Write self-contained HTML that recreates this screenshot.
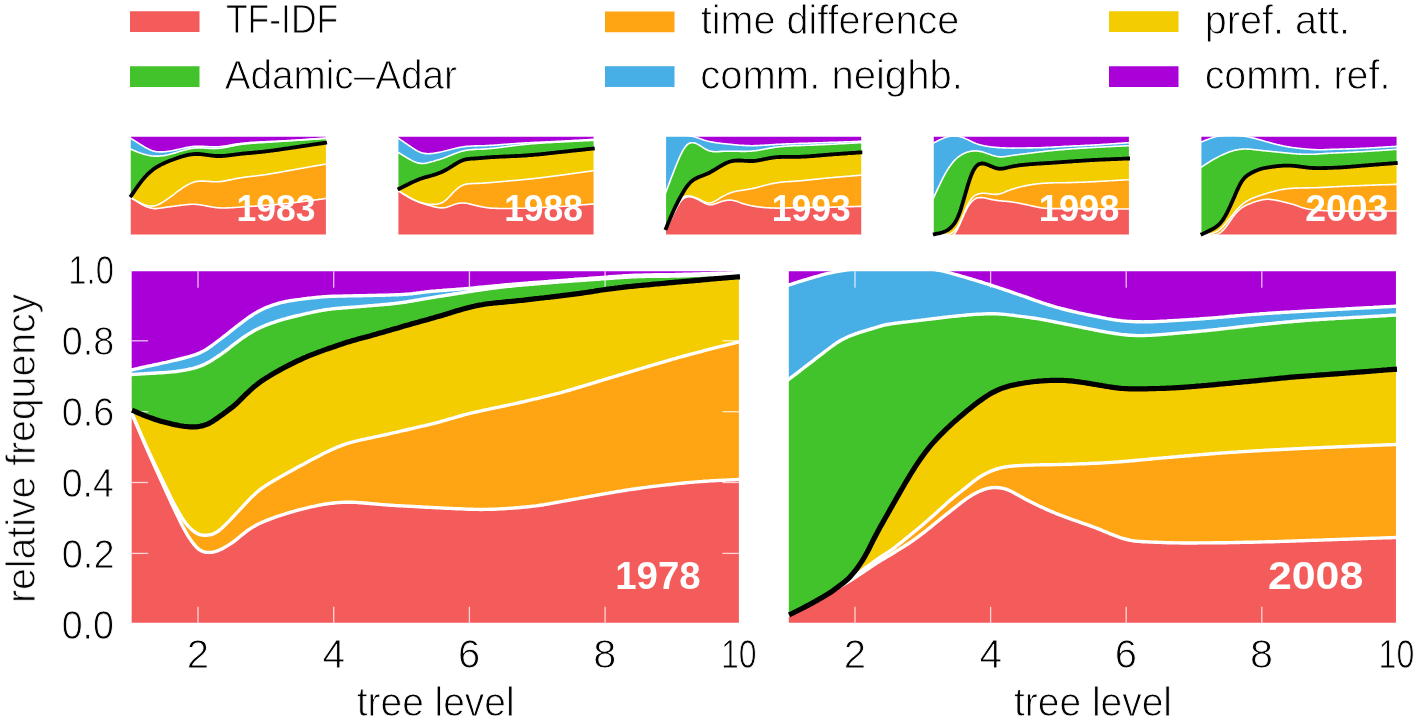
<!DOCTYPE html>
<html><head><meta charset="utf-8"><title>chart</title>
<style>
html,body{margin:0;padding:0;background:#fff;}
body{width:1416px;height:720px;overflow:hidden;}
svg{display:block;font-family:"Liberation Sans",sans-serif;}
</style></head><body>
<svg width="1416" height="720" viewBox="0 0 1416 720">
<defs>
<clipPath id="cL"><rect x="131.0" y="271.0" width="608.0" height="352.0"/></clipPath>
<path id="pLb5" d="M128,370.7 130,370.3 132,369.9 134,369.4 136,368.9 138,368.5 140,368 142,367.5 144,367.1 146,366.7 148,366.2 150,365.8 152,365.4 154,364.9 156,364.5 158,364.1 160,363.6 162,363.2 164,362.7 166,362.3 168,361.8 170,361.4 172,360.9 174,360.4 176,360 178,359.5 180,359 182,358.5 184,358 186,357.4 188,356.9 190,356.3 192,355.7 194,355.1 196,354.4 198,353.6 200,352.8 202,351.8 204,350.8 206,349.6 208,348.3 210,346.9 212,345.5 214,344 216,342.5 218,341 220,339.5 222,338 224,336.4 226,334.9 228,333.3 230,331.7 232,330.1 234,328.5 236,326.9 238,325.4 240,323.8 242,322.3 244,320.8 246,319.3 248,317.9 250,316.5 252,315.2 254,313.9 256,312.7 258,311.6 260,310.5 262,309.5 264,308.5 266,307.6 268,306.8 270,306.1 272,305.3 274,304.7 276,304.1 278,303.5 280,302.9 282,302.4 284,302 286,301.5 288,301.1 290,300.8 292,300.5 294,300.2 296,299.9 298,299.6 300,299.4 302,299.1 304,298.8 306,298.6 308,298.3 310,298.1 312,297.9 314,297.7 316,297.5 318,297.3 320,297.1 322,296.9 324,296.7 326,296.6 328,296.5 330,296.4 332,296.3 334,296.2 336,296.2 338,296.1 340,296.1 342,296.1 344,296 346,296 348,295.9 350,295.9 352,295.9 354,295.8 356,295.8 358,295.8 360,295.7 362,295.7 364,295.6 366,295.6 368,295.5 370,295.5 372,295.5 374,295.4 376,295.4 378,295.3 380,295.3 382,295.2 384,295.2 386,295.1 388,295.1 390,295 392,294.9 394,294.9 396,294.8 398,294.7 400,294.6 402,294.5 404,294.4 406,294.2 408,294.1 410,293.9 412,293.7 414,293.4 416,293.2 418,292.9 420,292.7 422,292.4 424,292.2 426,291.9 428,291.7 430,291.5 432,291.3 434,291.1 436,291 438,290.8 440,290.6 442,290.5 444,290.3 446,290.2 448,290 450,289.9 452,289.7 454,289.6 456,289.4 458,289.2 460,289.1 462,288.9 464,288.8 466,288.6 468,288.4 470,288.3 472,288.1 474,287.9 476,287.7 478,287.5 480,287.3 482,287.1 484,286.9 486,286.7 488,286.5 490,286.4 492,286.2 494,286 496,285.8 498,285.6 500,285.4 502,285.2 504,285 506,284.8 508,284.6 510,284.4 512,284.3 514,284.1 516,283.9 518,283.8 520,283.6 522,283.4 524,283.3 526,283.1 528,283 530,282.8 532,282.7 534,282.5 536,282.4 538,282.2 540,282.1 542,281.9 544,281.8 546,281.6 548,281.5 550,281.3 552,281.2 554,281 556,280.9 558,280.7 560,280.6 562,280.4 564,280.3 566,280.1 568,280 570,279.8 572,279.6 574,279.5 576,279.3 578,279.2 580,279 582,278.9 584,278.8 586,278.6 588,278.5 590,278.3 592,278.2 594,278 596,277.9 598,277.7 600,277.6 602,277.4 604,277.3 606,277.1 608,277 610,276.8 612,276.7 614,276.5 616,276.4 618,276.2 620,276.1 622,276 624,275.8 626,275.7 628,275.6 630,275.5 632,275.4 634,275.3 636,275.3 638,275.2 640,275.1 642,275.1 644,275 646,275 648,275 650,274.9 652,274.9 654,274.8 656,274.8 658,274.8 660,274.8 662,274.7 664,274.7 666,274.7 668,274.6 670,274.6 672,274.6 674,274.6 676,274.5 678,274.5 680,274.4 682,274.4 684,274.3 686,274.3 688,274.2 690,274.2 692,274.1 694,274 696,274 698,273.9 700,273.9 702,273.8 704,273.7 706,273.7 708,273.6 710,273.6 712,273.5 714,273.4 716,273.4 718,273.3 720,273.3 722,273.2 724,273.1 726,273.1 728,273 730,273 732,272.9 734,272.8 736,272.8 738,272.7 740,272.7 742,272.6 L742,629 L128,629 Z"/>
<path id="pLb4" d="M128,374.6 130,374.6 132,374.5 134,374.4 136,374.2 138,374.1 140,374 142,373.9 144,373.8 146,373.6 148,373.5 150,373.4 152,373.3 154,373.2 156,373 158,372.9 160,372.8 162,372.7 164,372.6 166,372.4 168,372.3 170,372.1 172,371.9 174,371.7 176,371.5 178,371.2 180,370.9 182,370.6 184,370.3 186,369.9 188,369.5 190,369 192,368.6 194,368.1 196,367.5 198,366.9 200,366.2 202,365.4 204,364.6 206,363.6 208,362.5 210,361.4 212,360.2 214,358.9 216,357.6 218,356.3 220,355 222,353.5 224,352.1 226,350.6 228,349.1 230,347.5 232,345.9 234,344.4 236,342.8 238,341.3 240,339.8 242,338.4 244,337 246,335.7 248,334.4 250,333.2 252,332 254,330.8 256,329.7 258,328.7 260,327.7 262,326.8 264,326 266,325.2 268,324.4 270,323.7 272,322.9 274,322.3 276,321.6 278,320.9 280,320.3 282,319.7 284,319.1 286,318.6 288,318 290,317.5 292,317 294,316.5 296,316 298,315.5 300,315.1 302,314.6 304,314.1 306,313.7 308,313.2 310,312.8 312,312.3 314,311.9 316,311.5 318,311.1 320,310.7 322,310.4 324,310 326,309.7 328,309.4 330,309.2 332,308.9 334,308.7 336,308.5 338,308.3 340,308.2 342,308 344,307.8 346,307.7 348,307.5 350,307.4 352,307.2 354,307.1 356,306.9 358,306.8 360,306.6 362,306.4 364,306.3 366,306.1 368,305.9 370,305.7 372,305.6 374,305.4 376,305.2 378,305.1 380,304.9 382,304.7 384,304.5 386,304.4 388,304.2 390,304 392,303.8 394,303.6 396,303.3 398,303.1 400,302.8 402,302.6 404,302.3 406,302 408,301.6 410,301.3 412,301 414,300.6 416,300.3 418,300 420,299.6 422,299.3 424,298.9 426,298.6 428,298.3 430,297.9 432,297.6 434,297.3 436,296.9 438,296.6 440,296.3 442,296 444,295.6 446,295.3 448,295 450,294.7 452,294.4 454,294 456,293.7 458,293.4 460,293.1 462,292.8 464,292.5 466,292.1 468,291.8 470,291.5 472,291.2 474,290.9 476,290.6 478,290.3 480,290 482,289.7 484,289.4 486,289.2 488,288.9 490,288.6 492,288.3 494,288.1 496,287.8 498,287.6 500,287.3 502,287.1 504,286.9 506,286.6 508,286.4 510,286.2 512,286 514,285.8 516,285.6 518,285.4 520,285.2 522,285 524,284.8 526,284.7 528,284.5 530,284.3 532,284.2 534,284 536,283.8 538,283.7 540,283.5 542,283.3 544,283.2 546,283 548,282.9 550,282.7 552,282.5 554,282.4 556,282.2 558,282.1 560,281.9 562,281.8 564,281.6 566,281.5 568,281.3 570,281.2 572,281.1 574,280.9 576,280.8 578,280.6 580,280.5 582,280.3 584,280.2 586,280 588,279.9 590,279.8 592,279.6 594,279.5 596,279.3 598,279.2 600,279 602,278.9 604,278.8 606,278.6 608,278.5 610,278.3 612,278.2 614,278 616,277.9 618,277.8 620,277.6 622,277.5 624,277.4 626,277.2 628,277.1 630,277 632,276.9 634,276.8 636,276.7 638,276.6 640,276.6 642,276.5 644,276.5 646,276.4 648,276.4 650,276.3 652,276.3 654,276.3 656,276.3 658,276.3 660,276.2 662,276.2 664,276.2 666,276.2 668,276.2 670,276.1 672,276.1 674,276.1 676,276 678,276 680,276 682,275.9 684,275.8 686,275.8 688,275.7 690,275.6 692,275.5 694,275.4 696,275.3 698,275.3 700,275.2 702,275.1 704,275 706,274.9 708,274.8 710,274.7 712,274.6 714,274.5 716,274.4 718,274.4 720,274.3 722,274.2 724,274.1 726,274 728,273.9 730,273.8 732,273.8 734,273.7 736,273.6 738,273.5 740,273.5 742,273.4 L742,629 L128,629 Z"/>
<path id="pLb3" d="M128,407.1 130,409.2 132,410.1 134,411 136,411.9 138,412.8 140,413.6 142,414.5 144,415.3 146,416.1 148,416.9 150,417.6 152,418.3 154,419 156,419.7 158,420.3 160,420.9 162,421.5 164,422 166,422.6 168,423.1 170,423.6 172,424.1 174,424.5 176,424.9 178,425.3 180,425.7 182,426 184,426.3 186,426.5 188,426.7 190,426.8 192,426.9 194,426.9 196,426.8 198,426.6 200,426.3 202,425.9 204,425.3 206,424.6 208,423.8 210,422.8 212,421.7 214,420.4 216,419 218,417.7 220,416.2 222,414.8 224,413.3 226,411.9 228,410.4 230,408.9 232,407.4 234,405.7 236,404 238,402.1 240,400.2 242,398.2 244,396.2 246,394.2 248,392.3 250,390.4 252,388.6 254,386.8 256,385.2 258,383.6 260,382.1 262,380.7 264,379.4 266,378.1 268,376.9 270,375.6 272,374.4 274,373.3 276,372.1 278,371 280,369.9 282,368.8 284,367.7 286,366.7 288,365.7 290,364.7 292,363.7 294,362.7 296,361.7 298,360.7 300,359.8 302,358.8 304,357.9 306,357.1 308,356.2 310,355.4 312,354.6 314,353.9 316,353.1 318,352.3 320,351.6 322,350.9 324,350.1 326,349.4 328,348.7 330,348 332,347.4 334,346.7 336,346 338,345.3 340,344.6 342,344 344,343.3 346,342.6 348,342 350,341.4 352,340.8 354,340.2 356,339.7 358,339.1 360,338.6 362,338 364,337.5 366,336.9 368,336.4 370,335.9 372,335.3 374,334.7 376,334.2 378,333.6 380,333 382,332.5 384,331.9 386,331.3 388,330.7 390,330.2 392,329.6 394,329 396,328.4 398,327.9 400,327.3 402,326.7 404,326.1 406,325.5 408,325 410,324.4 412,323.8 414,323.3 416,322.7 418,322.2 420,321.6 422,321 424,320.5 426,319.9 428,319.4 430,318.8 432,318.2 434,317.7 436,317.1 438,316.6 440,316 442,315.4 444,314.8 446,314.2 448,313.6 450,313 452,312.3 454,311.7 456,311.1 458,310.5 460,309.9 462,309.3 464,308.8 466,308.2 468,307.7 470,307.2 472,306.7 474,306.3 476,305.8 478,305.4 480,305 482,304.7 484,304.3 486,304 488,303.7 490,303.5 492,303.3 494,303 496,302.8 498,302.6 500,302.5 502,302.3 504,302.1 506,301.9 508,301.7 510,301.5 512,301.3 514,301.2 516,300.9 518,300.7 520,300.5 522,300.3 524,300.1 526,299.8 528,299.6 530,299.4 532,299.2 534,298.9 536,298.7 538,298.5 540,298.2 542,298 544,297.8 546,297.5 548,297.3 550,297.1 552,296.8 554,296.6 556,296.4 558,296.1 560,295.9 562,295.6 564,295.4 566,295.2 568,294.9 570,294.7 572,294.4 574,294.2 576,293.9 578,293.7 580,293.4 582,293.1 584,292.8 586,292.5 588,292.2 590,291.9 592,291.6 594,291.3 596,290.9 598,290.6 600,290.3 602,290 604,289.7 606,289.4 608,289.2 610,288.9 612,288.6 614,288.4 616,288.1 618,287.9 620,287.6 622,287.4 624,287.1 626,286.9 628,286.7 630,286.5 632,286.3 634,286.1 636,285.9 638,285.7 640,285.5 642,285.3 644,285.1 646,285 648,284.8 650,284.6 652,284.4 654,284.2 656,284 658,283.8 660,283.7 662,283.5 664,283.3 666,283.1 668,282.9 670,282.7 672,282.6 674,282.4 676,282.2 678,282 680,281.8 682,281.7 684,281.5 686,281.3 688,281.1 690,281 692,280.8 694,280.6 696,280.4 698,280.3 700,280.1 702,279.9 704,279.7 706,279.6 708,279.4 710,279.2 712,279 714,278.9 716,278.7 718,278.5 720,278.3 722,278.2 724,278 726,277.8 728,277.7 730,277.5 732,277.3 734,277.2 736,277 738,276.9 740,276.8 742,276.7 L742,629 L128,629 Z"/>
<path id="pLb2" d="M128,407.1 130,410.1 132,414 134,418.4 136,423 138,427.7 140,432.3 142,436.8 144,441.3 146,445.7 148,450 150,454.3 152,458.5 154,462.7 156,466.9 158,471 160,475.2 162,479.4 164,483.5 166,487.7 168,491.8 170,495.9 172,499.9 174,503.7 176,507.4 178,511 180,514.4 182,517.7 184,520.7 186,523.5 188,525.9 190,528.1 192,529.9 194,531.5 196,532.8 198,533.9 200,534.6 202,535.1 204,535.3 206,535.3 208,535.1 210,534.8 212,534.3 214,533.6 216,532.6 218,531.3 220,529.7 222,528 224,526.1 226,524.1 228,522.1 230,520.1 232,518 234,515.9 236,513.7 238,511.6 240,509.4 242,507.3 244,505.1 246,503 248,500.9 250,498.8 252,496.8 254,494.9 256,493.1 258,491.3 260,489.7 262,488.2 264,486.8 266,485.4 268,484.2 270,482.9 272,481.7 274,480.5 276,479.4 278,478.2 280,477.1 282,475.9 284,474.8 286,473.7 288,472.6 290,471.5 292,470.4 294,469.3 296,468.2 298,467.1 300,466 302,464.9 304,463.9 306,462.8 308,461.7 310,460.6 312,459.6 314,458.5 316,457.4 318,456.4 320,455.4 322,454.3 324,453.3 326,452.3 328,451.4 330,450.4 332,449.5 334,448.6 336,447.7 338,446.9 340,446.1 342,445.3 344,444.6 346,443.9 348,443.3 350,442.7 352,442.2 354,441.6 356,441.1 358,440.7 360,440.2 362,439.7 364,439.3 366,438.9 368,438.4 370,438 372,437.6 374,437.1 376,436.7 378,436.3 380,435.8 382,435.4 384,435 386,434.5 388,434.1 390,433.6 392,433.2 394,432.7 396,432.3 398,431.8 400,431.4 402,430.9 404,430.4 406,430 408,429.5 410,429 412,428.6 414,428.1 416,427.7 418,427.2 420,426.7 422,426.2 424,425.8 426,425.3 428,424.8 430,424.3 432,423.9 434,423.4 436,422.9 438,422.3 440,421.8 442,421.2 444,420.7 446,420.1 448,419.5 450,418.9 452,418.3 454,417.8 456,417.2 458,416.6 460,416 462,415.5 464,414.9 466,414.4 468,413.9 470,413.4 472,412.9 474,412.4 476,412 478,411.5 480,411.1 482,410.6 484,410.2 486,409.8 488,409.4 490,408.9 492,408.5 494,408.1 496,407.7 498,407.3 500,406.9 502,406.4 504,406 506,405.6 508,405.2 510,404.7 512,404.3 514,403.9 516,403.4 518,403 520,402.5 522,402 524,401.6 526,401.1 528,400.6 530,400.2 532,399.7 534,399.2 536,398.8 538,398.3 540,397.8 542,397.4 544,396.9 546,396.4 548,395.9 550,395.4 552,394.9 554,394.4 556,393.9 558,393.4 560,392.8 562,392.3 564,391.7 566,391.2 568,390.6 570,390 572,389.4 574,388.8 576,388.2 578,387.6 580,387 582,386.4 584,385.8 586,385.2 588,384.6 590,384 592,383.4 594,382.8 596,382.1 598,381.5 600,380.9 602,380.3 604,379.7 606,379.1 608,378.5 610,377.9 612,377.3 614,376.7 616,376.1 618,375.5 620,374.9 622,374.3 624,373.7 626,373.1 628,372.5 630,371.9 632,371.3 634,370.7 636,370.1 638,369.5 640,368.9 642,368.3 644,367.7 646,367.1 648,366.5 650,365.9 652,365.3 654,364.7 656,364.1 658,363.5 660,362.9 662,362.4 664,361.8 666,361.2 668,360.6 670,360 672,359.4 674,358.8 676,358.3 678,357.7 680,357.2 682,356.6 684,356 686,355.5 688,355 690,354.4 692,353.9 694,353.3 696,352.8 698,352.3 700,351.8 702,351.3 704,350.7 706,350.2 708,349.7 710,349.2 712,348.7 714,348.2 716,347.7 718,347.2 720,346.7 722,346.2 724,345.7 726,345.2 728,344.7 730,344.2 732,343.7 734,343.2 736,342.7 738,342.2 740,341.8 742,341.5 L742,629 L128,629 Z"/>
<path id="pLb1" d="M128,407.1 130,410.1 132,414 134,418.5 136,423.1 138,427.8 140,432.6 142,437.3 144,442 146,446.7 148,451.4 150,455.9 152,460.4 154,464.8 156,469.2 158,473.6 160,478 162,482.4 164,486.8 166,491.2 168,495.6 170,499.9 172,504.3 174,508.5 176,512.7 178,516.8 180,520.9 182,524.9 184,528.7 186,532.4 188,535.8 190,538.9 192,541.8 194,544.4 196,546.7 198,548.6 200,550.1 202,551.2 204,551.9 206,552.2 208,552.4 210,552.4 212,552.2 214,551.9 216,551.4 218,550.7 220,549.8 222,548.9 224,547.8 226,546.6 228,545.4 230,544.1 232,542.8 234,541.3 236,539.8 238,538.2 240,536.5 242,534.9 244,533.3 246,531.7 248,530.2 250,528.9 252,527.6 254,526.4 256,525.3 258,524.2 260,523.2 262,522.3 264,521.5 266,520.6 268,519.9 270,519.1 272,518.4 274,517.6 276,516.9 278,516.2 280,515.6 282,514.9 284,514.3 286,513.6 288,513 290,512.4 292,511.9 294,511.3 296,510.7 298,510.2 300,509.7 302,509.2 304,508.6 306,508.1 308,507.7 310,507.2 312,506.7 314,506.3 316,505.8 318,505.4 320,505 322,504.7 324,504.3 326,504 328,503.7 330,503.4 332,503.2 334,503 336,502.8 338,502.6 340,502.5 342,502.4 344,502.3 346,502.3 348,502.2 350,502.2 352,502.3 354,502.3 356,502.4 358,502.6 360,502.7 362,502.8 364,503 366,503.2 368,503.3 370,503.5 372,503.7 374,503.9 376,504 378,504.2 380,504.4 382,504.6 384,504.7 386,504.9 388,505 390,505.2 392,505.3 394,505.4 396,505.6 398,505.7 400,505.8 402,505.9 404,506 406,506.1 408,506.2 410,506.3 412,506.4 414,506.5 416,506.6 418,506.7 420,506.8 422,507 424,507.1 426,507.2 428,507.3 430,507.4 432,507.5 434,507.6 436,507.7 438,507.8 440,507.9 442,508 444,508.1 446,508.2 448,508.3 450,508.4 452,508.5 454,508.6 456,508.7 458,508.7 460,508.8 462,508.9 464,509 466,509.1 468,509.2 470,509.3 472,509.3 474,509.4 476,509.4 478,509.4 480,509.5 482,509.5 484,509.4 486,509.4 488,509.4 490,509.3 492,509.3 494,509.2 496,509.1 498,509 500,508.9 502,508.8 504,508.7 506,508.6 508,508.4 510,508.3 512,508.1 514,508 516,507.8 518,507.7 520,507.5 522,507.3 524,507.1 526,507 528,506.8 530,506.6 532,506.3 534,506.1 536,505.9 538,505.6 540,505.3 542,505 544,504.7 546,504.3 548,504 550,503.6 552,503.2 554,502.9 556,502.5 558,502.2 560,501.8 562,501.4 564,501.1 566,500.7 568,500.4 570,500 572,499.6 574,499.3 576,498.9 578,498.6 580,498.2 582,497.8 584,497.5 586,497.1 588,496.8 590,496.4 592,496 594,495.7 596,495.3 598,495 600,494.6 602,494.2 604,493.9 606,493.5 608,493.2 610,492.8 612,492.5 614,492.2 616,491.8 618,491.5 620,491.2 622,490.9 624,490.5 626,490.2 628,489.9 630,489.6 632,489.3 634,489 636,488.8 638,488.5 640,488.2 642,487.9 644,487.6 646,487.4 648,487.1 650,486.8 652,486.6 654,486.3 656,486.1 658,485.9 660,485.6 662,485.4 664,485.2 666,484.9 668,484.7 670,484.5 672,484.3 674,484.1 676,483.8 678,483.6 680,483.4 682,483.2 684,483 686,482.8 688,482.6 690,482.4 692,482.3 694,482.1 696,481.9 698,481.8 700,481.6 702,481.5 704,481.3 706,481.2 708,481.1 710,480.9 712,480.8 714,480.7 716,480.6 718,480.5 720,480.4 722,480.3 724,480.2 726,480.1 728,480 730,479.9 732,479.8 734,479.7 736,479.6 738,479.5 740,479.5 742,479.4 L742,629 L128,629 Z"/>
<clipPath id="cR"><rect x="788.0" y="271.0" width="608.0" height="352.0"/></clipPath>
<path id="pRb5" d="M785,285.9 787,285.5 789,284.9 791,284.3 793,283.6 795,283 797,282.3 799,281.7 801,281.1 803,280.5 805,279.9 807,279.3 809,278.7 811,278.1 813,277.5 815,276.9 817,276.4 819,275.8 821,275.2 823,274.7 825,274.2 827,273.7 829,273.2 831,272.8 833,272.4 835,271.9 837,271.6 839,271.2 841,270.9 843,270.5 845,270.2 847,269.9 849,269.6 851,269.4 853,269.2 855,268.9 857,268.7 859,268.5 861,268.3 863,268.2 865,268 867,267.9 869,267.7 871,267.6 873,267.5 875,267.4 877,267.3 879,267.2 881,267.1 883,267.1 885,267.1 887,267 889,267 891,267 893,267 895,267.1 897,267.1 899,267.2 901,267.3 903,267.3 905,267.4 907,267.5 909,267.6 911,267.8 913,267.9 915,268 917,268.1 919,268.2 921,268.4 923,268.5 925,268.6 927,268.8 929,268.9 931,269.1 933,269.4 935,269.6 937,270 939,270.3 941,270.7 943,271.2 945,271.6 947,272.1 949,272.7 951,273.2 953,273.8 955,274.3 957,274.9 959,275.5 961,276.1 963,276.6 965,277.2 967,277.8 969,278.4 971,279 973,279.6 975,280.2 977,280.8 979,281.4 981,282 983,282.6 985,283.3 987,283.9 989,284.5 991,285.2 993,285.8 995,286.5 997,287.2 999,287.8 1001,288.5 1003,289.2 1005,289.9 1007,290.5 1009,291.2 1011,291.9 1013,292.6 1015,293.3 1017,294 1019,294.7 1021,295.3 1023,296 1025,296.7 1027,297.4 1029,298.1 1031,298.9 1033,299.6 1035,300.3 1037,301 1039,301.7 1041,302.4 1043,303.1 1045,303.7 1047,304.4 1049,305 1051,305.6 1053,306.2 1055,306.8 1057,307.4 1059,307.9 1061,308.5 1063,309 1065,309.5 1067,310 1069,310.5 1071,311 1073,311.5 1075,311.9 1077,312.4 1079,312.9 1081,313.3 1083,313.7 1085,314.2 1087,314.6 1089,315 1091,315.4 1093,315.8 1095,316.2 1097,316.6 1099,317 1101,317.4 1103,317.8 1105,318.2 1107,318.6 1109,318.9 1111,319.3 1113,319.6 1115,319.9 1117,320.2 1119,320.4 1121,320.7 1123,320.9 1125,321.1 1127,321.3 1129,321.4 1131,321.5 1133,321.6 1135,321.7 1137,321.8 1139,321.8 1141,321.8 1143,321.9 1145,321.8 1147,321.8 1149,321.8 1151,321.7 1153,321.7 1155,321.6 1157,321.5 1159,321.4 1161,321.3 1163,321.2 1165,321.1 1167,321 1169,320.8 1171,320.7 1173,320.6 1175,320.5 1177,320.4 1179,320.3 1181,320.1 1183,320 1185,319.9 1187,319.8 1189,319.6 1191,319.5 1193,319.4 1195,319.2 1197,319.1 1199,319 1201,318.8 1203,318.7 1205,318.5 1207,318.4 1209,318.2 1211,318.1 1213,317.9 1215,317.8 1217,317.6 1219,317.4 1221,317.2 1223,317.1 1225,316.9 1227,316.7 1229,316.5 1231,316.3 1233,316.2 1235,316 1237,315.8 1239,315.6 1241,315.4 1243,315.3 1245,315.1 1247,314.9 1249,314.7 1251,314.6 1253,314.4 1255,314.3 1257,314.1 1259,314 1261,313.8 1263,313.7 1265,313.6 1267,313.4 1269,313.3 1271,313.2 1273,313 1275,312.9 1277,312.8 1279,312.7 1281,312.5 1283,312.4 1285,312.3 1287,312.2 1289,312.1 1291,311.9 1293,311.8 1295,311.7 1297,311.6 1299,311.5 1301,311.4 1303,311.2 1305,311.1 1307,311 1309,310.9 1311,310.8 1313,310.7 1315,310.6 1317,310.5 1319,310.4 1321,310.3 1323,310.2 1325,310 1327,309.9 1329,309.8 1331,309.7 1333,309.6 1335,309.5 1337,309.4 1339,309.3 1341,309.2 1343,309.1 1345,309 1347,308.8 1349,308.7 1351,308.6 1353,308.5 1355,308.4 1357,308.3 1359,308.2 1361,308.1 1363,308 1365,307.9 1367,307.8 1369,307.7 1371,307.6 1373,307.5 1375,307.3 1377,307.2 1379,307.1 1381,307 1383,306.9 1385,306.8 1387,306.7 1389,306.6 1391,306.5 1393,306.4 1395,306.3 1397,306.2 1399,306.2 L1399,629 L785,629 Z"/>
<path id="pRb4" d="M785,381.6 787,380.6 789,379.2 791,377.7 793,376.2 795,374.7 797,373.1 799,371.6 801,370 803,368.5 805,366.9 807,365.4 809,363.8 811,362.3 813,360.8 815,359.2 817,357.7 819,356.1 821,354.6 823,353.1 825,351.5 827,350 829,348.5 831,347 833,345.5 835,344.1 837,342.7 839,341.5 841,340.3 843,339.2 845,338.2 847,337.2 849,336.3 851,335.5 853,334.8 855,334 857,333.4 859,332.7 861,332 863,331.4 865,330.8 867,330.2 869,329.6 871,329 873,328.4 875,327.8 877,327.2 879,326.6 881,326 883,325.4 885,324.9 887,324.5 889,324.2 891,323.9 893,323.6 895,323.3 897,323.1 899,322.8 901,322.6 903,322.3 905,322.1 907,321.9 909,321.6 911,321.4 913,321.1 915,320.9 917,320.7 919,320.4 921,320.2 923,319.9 925,319.7 927,319.4 929,319.2 931,319 933,318.7 935,318.5 937,318.3 939,318 941,317.8 943,317.5 945,317.3 947,317.1 949,316.8 951,316.6 953,316.4 955,316.2 957,316 959,315.8 961,315.6 963,315.4 965,315.2 967,315 969,314.8 971,314.7 973,314.5 975,314.4 977,314.3 979,314.2 981,314.1 983,314 985,313.9 987,313.8 989,313.8 991,313.8 993,313.8 995,313.8 997,313.9 999,314 1001,314.1 1003,314.3 1005,314.4 1007,314.6 1009,314.9 1011,315.1 1013,315.3 1015,315.6 1017,315.9 1019,316.1 1021,316.4 1023,316.6 1025,316.9 1027,317.2 1029,317.4 1031,317.7 1033,318 1035,318.3 1037,318.6 1039,318.9 1041,319.3 1043,319.6 1045,320 1047,320.4 1049,320.8 1051,321.2 1053,321.6 1055,322 1057,322.4 1059,322.8 1061,323.2 1063,323.6 1065,324 1067,324.4 1069,324.8 1071,325.2 1073,325.6 1075,326 1077,326.4 1079,326.8 1081,327.2 1083,327.6 1085,328 1087,328.4 1089,328.8 1091,329.2 1093,329.6 1095,330 1097,330.4 1099,330.8 1101,331.2 1103,331.5 1105,331.9 1107,332.3 1109,332.6 1111,332.9 1113,333.2 1115,333.5 1117,333.8 1119,334.1 1121,334.4 1123,334.6 1125,334.8 1127,335 1129,335.2 1131,335.3 1133,335.4 1135,335.5 1137,335.6 1139,335.6 1141,335.6 1143,335.6 1145,335.5 1147,335.4 1149,335.4 1151,335.3 1153,335.1 1155,335 1157,334.9 1159,334.7 1161,334.6 1163,334.4 1165,334.3 1167,334.1 1169,333.9 1171,333.8 1173,333.6 1175,333.4 1177,333.3 1179,333.1 1181,332.9 1183,332.7 1185,332.6 1187,332.4 1189,332.2 1191,332 1193,331.9 1195,331.7 1197,331.5 1199,331.3 1201,331.1 1203,330.9 1205,330.7 1207,330.5 1209,330.3 1211,330.1 1213,329.9 1215,329.7 1217,329.5 1219,329.2 1221,329 1223,328.8 1225,328.6 1227,328.4 1229,328.1 1231,327.9 1233,327.7 1235,327.5 1237,327.2 1239,327 1241,326.8 1243,326.6 1245,326.3 1247,326.1 1249,325.9 1251,325.7 1253,325.5 1255,325.2 1257,325 1259,324.8 1261,324.6 1263,324.4 1265,324.2 1267,324 1269,323.8 1271,323.6 1273,323.4 1275,323.2 1277,323 1279,322.8 1281,322.6 1283,322.4 1285,322.2 1287,322 1289,321.9 1291,321.7 1293,321.5 1295,321.3 1297,321.2 1299,321 1301,320.8 1303,320.7 1305,320.5 1307,320.4 1309,320.2 1311,320.1 1313,319.9 1315,319.8 1317,319.7 1319,319.5 1321,319.4 1323,319.3 1325,319.2 1327,319 1329,318.9 1331,318.8 1333,318.7 1335,318.6 1337,318.4 1339,318.3 1341,318.2 1343,318.1 1345,318 1347,317.9 1349,317.8 1351,317.6 1353,317.5 1355,317.4 1357,317.3 1359,317.2 1361,317.1 1363,317 1365,316.9 1367,316.7 1369,316.6 1371,316.5 1373,316.4 1375,316.3 1377,316.2 1379,316.1 1381,315.9 1383,315.8 1385,315.7 1387,315.6 1389,315.4 1391,315.3 1393,315.2 1395,315.1 1397,315 1399,314.9 L1399,629 L785,629 Z"/>
<path id="pRb3" d="M785,616.4 787,615.8 789,614.9 791,614 793,613 795,612 797,611 799,610 801,609 803,608 805,606.9 807,605.8 809,604.8 811,603.7 813,602.6 815,601.5 817,600.4 819,599.3 821,598.1 823,597 825,595.8 827,594.6 829,593.3 831,592 833,590.6 835,589.1 837,587.7 839,586.2 841,584.7 843,583.2 845,581.5 847,579.8 849,577.9 851,575.7 853,573.4 855,571 857,568.4 859,565.6 861,562.6 863,559.5 865,556.1 867,552.5 869,548.7 871,544.7 873,540.7 875,536.8 877,533 879,529.3 881,525.6 883,522.1 885,518.5 887,515 889,511.4 891,507.9 893,504.4 895,500.9 897,497.4 899,493.9 901,490.4 903,487 905,483.5 907,480.1 909,476.8 911,473.5 913,470.3 915,467.1 917,464.1 919,461.1 921,458.2 923,455.4 925,452.7 927,450.2 929,447.6 931,445.2 933,442.9 935,440.7 937,438.5 939,436.4 941,434.3 943,432.3 945,430.3 947,428.4 949,426.6 951,424.7 953,422.9 955,421.1 957,419.4 959,417.6 961,415.9 963,414.2 965,412.5 967,410.8 969,409.2 971,407.6 973,406 975,404.4 977,402.9 979,401.4 981,400 983,398.6 985,397.2 987,395.9 989,394.6 991,393.4 993,392.3 995,391.3 997,390.3 999,389.5 1001,388.7 1003,387.9 1005,387.3 1007,386.7 1009,386.1 1011,385.6 1013,385.1 1015,384.7 1017,384.3 1019,383.9 1021,383.5 1023,383.2 1025,382.8 1027,382.5 1029,382.3 1031,382 1033,381.7 1035,381.5 1037,381.3 1039,381.1 1041,381 1043,380.8 1045,380.7 1047,380.6 1049,380.5 1051,380.4 1053,380.3 1055,380.3 1057,380.3 1059,380.3 1061,380.4 1063,380.4 1065,380.5 1067,380.6 1069,380.8 1071,380.9 1073,381.1 1075,381.4 1077,381.6 1079,381.9 1081,382.2 1083,382.5 1085,382.8 1087,383.1 1089,383.4 1091,383.7 1093,384.1 1095,384.4 1097,384.7 1099,385.1 1101,385.4 1103,385.8 1105,386.1 1107,386.5 1109,386.8 1111,387.1 1113,387.4 1115,387.7 1117,387.9 1119,388.2 1121,388.4 1123,388.5 1125,388.6 1127,388.7 1129,388.8 1131,388.8 1133,388.9 1135,388.9 1137,388.9 1139,388.9 1141,388.8 1143,388.8 1145,388.8 1147,388.8 1149,388.7 1151,388.7 1153,388.6 1155,388.6 1157,388.5 1159,388.5 1161,388.4 1163,388.3 1165,388.3 1167,388.2 1169,388.1 1171,388 1173,387.9 1175,387.8 1177,387.7 1179,387.6 1181,387.4 1183,387.3 1185,387.1 1187,387 1189,386.8 1191,386.7 1193,386.5 1195,386.4 1197,386.2 1199,386 1201,385.9 1203,385.7 1205,385.5 1207,385.4 1209,385.2 1211,385 1213,384.8 1215,384.6 1217,384.4 1219,384.2 1221,384 1223,383.9 1225,383.7 1227,383.5 1229,383.3 1231,383.1 1233,382.9 1235,382.7 1237,382.5 1239,382.3 1241,382.1 1243,381.9 1245,381.7 1247,381.6 1249,381.4 1251,381.2 1253,381 1255,380.8 1257,380.6 1259,380.4 1261,380.2 1263,380 1265,379.8 1267,379.6 1269,379.4 1271,379.2 1273,379 1275,378.8 1277,378.6 1279,378.4 1281,378.2 1283,378 1285,377.8 1287,377.6 1289,377.4 1291,377.2 1293,377.1 1295,376.9 1297,376.7 1299,376.6 1301,376.4 1303,376.3 1305,376.1 1307,376 1309,375.8 1311,375.7 1313,375.5 1315,375.4 1317,375.2 1319,375.1 1321,374.9 1323,374.8 1325,374.7 1327,374.5 1329,374.4 1331,374.2 1333,374.1 1335,373.9 1337,373.8 1339,373.6 1341,373.5 1343,373.3 1345,373.2 1347,373 1349,372.9 1351,372.7 1353,372.6 1355,372.4 1357,372.2 1359,372.1 1361,371.9 1363,371.8 1365,371.6 1367,371.5 1369,371.3 1371,371.1 1373,371 1375,370.8 1377,370.7 1379,370.5 1381,370.4 1383,370.2 1385,370 1387,369.9 1389,369.7 1391,369.6 1393,369.4 1395,369.3 1397,369.2 1399,369.1 L1399,629 L785,629 Z"/>
<path id="pRb2" d="M785,616.4 787,615.8 789,614.9 791,614 793,613 795,612 797,611 799,610 801,609 803,608 805,606.9 807,605.8 809,604.8 811,603.7 813,602.6 815,601.5 817,600.4 819,599.3 821,598.1 823,597 825,595.8 827,594.6 829,593.3 831,592 833,590.7 835,589.4 837,588 839,586.7 841,585.4 843,584 845,582.7 847,581.3 849,580 851,578.5 853,577.1 855,575.6 857,574.1 859,572.6 861,571.1 863,569.7 865,568.2 867,566.7 869,565.3 871,563.8 873,562.4 875,560.9 877,559.5 879,558.1 881,556.8 883,555.5 885,554.2 887,552.9 889,551.6 891,550.2 893,548.8 895,547.3 897,545.7 899,544.2 901,542.6 903,541 905,539.3 907,537.7 909,536.1 911,534.4 913,532.8 915,531.1 917,529.5 919,527.9 921,526.2 923,524.5 925,522.8 927,521 929,519.3 931,517.5 933,515.7 935,513.9 937,512.2 939,510.3 941,508.5 943,506.7 945,504.9 947,503.1 949,501.3 951,499.6 953,497.9 955,496.2 957,494.6 959,493 961,491.5 963,489.9 965,488.3 967,486.7 969,485.1 971,483.5 973,481.9 975,480.3 977,478.9 979,477.5 981,476.2 983,475 985,473.9 987,472.9 989,471.9 991,471.1 993,470.3 995,469.6 997,469 999,468.4 1001,467.9 1003,467.4 1005,467 1007,466.7 1009,466.4 1011,466.2 1013,466 1015,465.8 1017,465.7 1019,465.6 1021,465.5 1023,465.4 1025,465.3 1027,465.2 1029,465.1 1031,465.1 1033,465 1035,464.9 1037,464.9 1039,464.9 1041,464.8 1043,464.8 1045,464.8 1047,464.7 1049,464.7 1051,464.7 1053,464.6 1055,464.6 1057,464.6 1059,464.5 1061,464.5 1063,464.4 1065,464.4 1067,464.3 1069,464.3 1071,464.2 1073,464.1 1075,464.1 1077,464 1079,463.9 1081,463.8 1083,463.8 1085,463.7 1087,463.6 1089,463.5 1091,463.4 1093,463.3 1095,463.3 1097,463.2 1099,463.1 1101,463 1103,462.9 1105,462.7 1107,462.6 1109,462.5 1111,462.4 1113,462.3 1115,462.1 1117,462 1119,461.8 1121,461.7 1123,461.5 1125,461.4 1127,461.2 1129,461 1131,460.9 1133,460.7 1135,460.5 1137,460.3 1139,460.1 1141,459.9 1143,459.8 1145,459.6 1147,459.4 1149,459.2 1151,459 1153,458.8 1155,458.6 1157,458.4 1159,458.3 1161,458.1 1163,457.9 1165,457.7 1167,457.6 1169,457.4 1171,457.2 1173,457 1175,456.9 1177,456.7 1179,456.5 1181,456.3 1183,456.2 1185,456 1187,455.8 1189,455.7 1191,455.5 1193,455.3 1195,455.1 1197,455 1199,454.8 1201,454.6 1203,454.5 1205,454.3 1207,454.2 1209,454 1211,453.8 1213,453.7 1215,453.5 1217,453.4 1219,453.2 1221,453.1 1223,452.9 1225,452.8 1227,452.6 1229,452.5 1231,452.4 1233,452.2 1235,452.1 1237,452 1239,451.8 1241,451.7 1243,451.6 1245,451.5 1247,451.4 1249,451.2 1251,451.1 1253,451 1255,450.9 1257,450.8 1259,450.7 1261,450.6 1263,450.4 1265,450.3 1267,450.2 1269,450.1 1271,450 1273,449.9 1275,449.8 1277,449.7 1279,449.6 1281,449.5 1283,449.4 1285,449.3 1287,449.2 1289,449.1 1291,449 1293,448.9 1295,448.8 1297,448.7 1299,448.6 1301,448.5 1303,448.4 1305,448.3 1307,448.2 1309,448.1 1311,448 1313,448 1315,447.9 1317,447.8 1319,447.7 1321,447.6 1323,447.5 1325,447.4 1327,447.3 1329,447.2 1331,447.2 1333,447.1 1335,447 1337,446.9 1339,446.8 1341,446.7 1343,446.6 1345,446.6 1347,446.5 1349,446.4 1351,446.3 1353,446.2 1355,446.1 1357,446 1359,446 1361,445.9 1363,445.8 1365,445.7 1367,445.6 1369,445.6 1371,445.5 1373,445.4 1375,445.3 1377,445.2 1379,445.2 1381,445.1 1383,445 1385,444.9 1387,444.8 1389,444.8 1391,444.7 1393,444.6 1395,444.5 1397,444.5 1399,444.4 L1399,629 L785,629 Z"/>
<path id="pRb1" d="M785,616.4 787,615.8 789,614.9 791,614 793,613 795,612 797,611 799,610 801,609 803,608 805,606.9 807,605.9 809,604.8 811,603.7 813,602.6 815,601.5 817,600.4 819,599.3 821,598.1 823,597 825,595.8 827,594.6 829,593.4 831,592.2 833,590.9 835,589.7 837,588.4 839,587.2 841,586.1 843,584.9 845,583.8 847,582.6 849,581.4 851,580.2 853,578.8 855,577.5 857,576.2 859,574.9 861,573.5 863,572.2 865,570.9 867,569.5 869,568.2 871,566.9 873,565.6 875,564.2 877,562.9 879,561.7 881,560.4 883,559.2 885,558 887,556.8 889,555.7 891,554.5 893,553.3 895,552 897,550.8 899,549.6 901,548.3 903,547.1 905,545.8 907,544.5 909,543.2 911,541.9 913,540.5 915,539.1 917,537.7 919,536.2 921,534.7 923,533.2 925,531.6 927,530 929,528.4 931,526.8 933,525.2 935,523.5 937,521.9 939,520.3 941,518.6 943,517 945,515.4 947,513.8 949,512.3 951,510.7 953,509.2 955,507.6 957,506 959,504.4 961,502.8 963,501.3 965,499.8 967,498.4 969,497.1 971,495.8 973,494.6 975,493.5 977,492.4 979,491.5 981,490.6 983,489.8 985,489.1 987,488.5 989,488.1 991,487.8 993,487.6 995,487.5 997,487.6 999,487.8 1001,488 1003,488.4 1005,488.9 1007,489.5 1009,490.3 1011,491.2 1013,492.2 1015,493.4 1017,494.5 1019,495.6 1021,496.7 1023,497.8 1025,498.9 1027,499.9 1029,500.9 1031,502 1033,503 1035,504 1037,505 1039,506 1041,506.9 1043,507.8 1045,508.7 1047,509.6 1049,510.5 1051,511.3 1053,512.1 1055,513 1057,513.8 1059,514.6 1061,515.3 1063,516.1 1065,516.9 1067,517.6 1069,518.4 1071,519.1 1073,519.8 1075,520.5 1077,521.2 1079,521.9 1081,522.6 1083,523.3 1085,524 1087,524.6 1089,525.3 1091,526.1 1093,526.8 1095,527.5 1097,528.3 1099,529.1 1101,529.9 1103,530.8 1105,531.6 1107,532.4 1109,533.3 1111,534.1 1113,534.9 1115,535.7 1117,536.4 1119,537.2 1121,537.8 1123,538.5 1125,539 1127,539.5 1129,540 1131,540.4 1133,540.7 1135,541 1137,541.2 1139,541.4 1141,541.5 1143,541.7 1145,541.8 1147,541.9 1149,542 1151,542.1 1153,542.1 1155,542.2 1157,542.3 1159,542.4 1161,542.4 1163,542.5 1165,542.6 1167,542.7 1169,542.7 1171,542.8 1173,542.8 1175,542.9 1177,542.9 1179,542.9 1181,543 1183,543 1185,543 1187,543 1189,543 1191,543 1193,543 1195,543 1197,543 1199,542.9 1201,542.9 1203,542.9 1205,542.9 1207,542.9 1209,542.9 1211,542.9 1213,542.8 1215,542.8 1217,542.8 1219,542.8 1221,542.8 1223,542.7 1225,542.7 1227,542.7 1229,542.6 1231,542.6 1233,542.6 1235,542.5 1237,542.5 1239,542.5 1241,542.4 1243,542.4 1245,542.3 1247,542.3 1249,542.2 1251,542.2 1253,542.2 1255,542.1 1257,542.1 1259,542 1261,542 1263,541.9 1265,541.9 1267,541.8 1269,541.8 1271,541.7 1273,541.7 1275,541.6 1277,541.6 1279,541.5 1281,541.4 1283,541.4 1285,541.3 1287,541.2 1289,541.2 1291,541.1 1293,541 1295,541 1297,540.9 1299,540.8 1301,540.8 1303,540.7 1305,540.6 1307,540.5 1309,540.5 1311,540.4 1313,540.3 1315,540.3 1317,540.2 1319,540.1 1321,540.1 1323,540 1325,539.9 1327,539.8 1329,539.8 1331,539.7 1333,539.6 1335,539.6 1337,539.5 1339,539.4 1341,539.4 1343,539.3 1345,539.2 1347,539.2 1349,539.1 1351,539 1353,539 1355,538.9 1357,538.8 1359,538.8 1361,538.7 1363,538.6 1365,538.5 1367,538.5 1369,538.4 1371,538.3 1373,538.3 1375,538.2 1377,538.1 1379,538.1 1381,538 1383,537.9 1385,537.9 1387,537.8 1389,537.7 1391,537.7 1393,537.6 1395,537.5 1397,537.5 1399,537.4 L1399,629 L785,629 Z"/>
<clipPath id="cs1983"><rect x="130.0" y="136.0" width="196.0" height="99.0"/></clipPath>
<path id="ps1983b5" d="M128,136.6 129,137.2 130,137.9 131,138.5 132,139.1 133,139.8 134,140.4 135,141 136,141.6 137,142.3 138,142.9 139,143.5 140,144.1 141,144.8 142,145.4 143,146 144,146.6 145,147.2 146,147.7 147,148.3 148,148.8 149,149.3 150,149.8 151,150.2 152,150.6 153,150.9 154,151.2 155,151.4 156,151.6 157,151.7 158,151.8 159,151.9 160,151.9 161,151.9 162,151.9 163,151.9 164,151.8 165,151.7 166,151.6 167,151.5 168,151.3 169,151.2 170,151 171,150.9 172,150.7 173,150.5 174,150.3 175,150.1 176,149.9 177,149.6 178,149.4 179,149.2 180,149 181,148.7 182,148.5 183,148.3 184,148.1 185,147.8 186,147.6 187,147.4 188,147.2 189,147.1 190,146.9 191,146.8 192,146.6 193,146.5 194,146.4 195,146.3 196,146.3 197,146.2 198,146.2 199,146.2 200,146.2 201,146.3 202,146.3 203,146.4 204,146.4 205,146.5 206,146.5 207,146.6 208,146.6 209,146.7 210,146.7 211,146.8 212,146.8 213,146.9 214,146.9 215,146.9 216,146.9 217,146.8 218,146.8 219,146.7 220,146.6 221,146.5 222,146.4 223,146.3 224,146.1 225,146 226,145.8 227,145.7 228,145.5 229,145.3 230,145.1 231,145 232,144.8 233,144.6 234,144.4 235,144.3 236,144.1 237,143.9 238,143.8 239,143.7 240,143.5 241,143.4 242,143.3 243,143.2 244,143.1 245,143 246,142.9 247,142.8 248,142.7 249,142.6 250,142.5 251,142.4 252,142.4 253,142.3 254,142.2 255,142.2 256,142.1 257,142.1 258,142 259,142 260,141.9 261,141.9 262,141.8 263,141.8 264,141.7 265,141.7 266,141.6 267,141.6 268,141.5 269,141.5 270,141.5 271,141.4 272,141.4 273,141.3 274,141.3 275,141.2 276,141.2 277,141.1 278,141.1 279,141.1 280,141 281,141 282,140.9 283,140.9 284,140.8 285,140.8 286,140.7 287,140.6 288,140.6 289,140.5 290,140.5 291,140.4 292,140.4 293,140.3 294,140.2 295,140.2 296,140.1 297,140 298,140 299,139.9 300,139.8 301,139.8 302,139.7 303,139.6 304,139.6 305,139.5 306,139.4 307,139.4 308,139.3 309,139.2 310,139.1 311,139.1 312,139 313,138.9 314,138.9 315,138.8 316,138.7 317,138.6 318,138.6 319,138.5 320,138.4 321,138.4 322,138.3 323,138.2 324,138.1 325,138.1 326,138 327,137.9 328,137.9 329,137.8 L329,241 L128,241 Z"/>
<path id="ps1983b4" d="M128,148.2 129,148.5 130,148.9 131,149.3 132,149.7 133,150.1 134,150.6 135,151 136,151.4 137,151.8 138,152.2 139,152.5 140,152.9 141,153.3 142,153.6 143,153.9 144,154.2 145,154.5 146,154.8 147,155 148,155.2 149,155.4 150,155.6 151,155.7 152,155.9 153,156 154,156.1 155,156.1 156,156.1 157,156.1 158,156.1 159,156.1 160,156 161,155.9 162,155.8 163,155.7 164,155.6 165,155.4 166,155.2 167,155 168,154.8 169,154.5 170,154.3 171,154 172,153.7 173,153.4 174,153.1 175,152.9 176,152.5 177,152.2 178,151.9 179,151.6 180,151.3 181,151 182,150.7 183,150.4 184,150.2 185,149.9 186,149.6 187,149.4 188,149.1 189,148.9 190,148.7 191,148.5 192,148.4 193,148.2 194,148.1 195,148 196,147.9 197,147.9 198,147.9 199,147.9 200,147.9 201,147.9 202,147.9 203,148 204,148 205,148.1 206,148.2 207,148.2 208,148.3 209,148.4 210,148.4 211,148.5 212,148.5 213,148.5 214,148.6 215,148.5 216,148.5 217,148.5 218,148.4 219,148.3 220,148.2 221,148.1 222,148 223,147.8 224,147.6 225,147.5 226,147.3 227,147.1 228,146.9 229,146.7 230,146.5 231,146.3 232,146.1 233,145.9 234,145.7 235,145.5 236,145.3 237,145.1 238,144.9 239,144.8 240,144.6 241,144.5 242,144.3 243,144.2 244,144.1 245,144 246,143.9 247,143.8 248,143.7 249,143.6 250,143.5 251,143.4 252,143.3 253,143.2 254,143.2 255,143.1 256,143 257,143 258,142.9 259,142.8 260,142.8 261,142.7 262,142.6 263,142.6 264,142.5 265,142.5 266,142.4 267,142.3 268,142.3 269,142.2 270,142.1 271,142.1 272,142 273,141.9 274,141.9 275,141.8 276,141.7 277,141.6 278,141.6 279,141.5 280,141.4 281,141.4 282,141.3 283,141.2 284,141.2 285,141.1 286,141 287,141 288,140.9 289,140.8 290,140.8 291,140.7 292,140.6 293,140.6 294,140.5 295,140.5 296,140.4 297,140.3 298,140.3 299,140.2 300,140.1 301,140.1 302,140 303,139.9 304,139.9 305,139.8 306,139.8 307,139.7 308,139.6 309,139.6 310,139.5 311,139.4 312,139.4 313,139.3 314,139.3 315,139.2 316,139.1 317,139.1 318,139 319,138.9 320,138.9 321,138.8 322,138.8 323,138.7 324,138.6 325,138.6 326,138.5 327,138.4 328,138.4 329,138.3 L329,241 L128,241 Z"/>
<path id="ps1983b3" d="M128,195.8 129,196.4 130,197 131,196 132,194.6 133,193.1 134,191.6 135,190.2 136,188.7 137,187.3 138,185.9 139,184.5 140,183.2 141,181.9 142,180.6 143,179.4 144,178.2 145,177 146,176 147,174.9 148,173.9 149,173 150,172.1 151,171.2 152,170.4 153,169.6 154,168.8 155,168.1 156,167.5 157,166.9 158,166.3 159,165.7 160,165.2 161,164.6 162,164.1 163,163.7 164,163.2 165,162.7 166,162.3 167,161.9 168,161.4 169,161 170,160.6 171,160.3 172,159.9 173,159.5 174,159.2 175,158.8 176,158.5 177,158.1 178,157.8 179,157.4 180,157.1 181,156.8 182,156.5 183,156.2 184,155.9 185,155.7 186,155.4 187,155.2 188,154.9 189,154.7 190,154.6 191,154.4 192,154.3 193,154.1 194,154.1 195,154 196,154 197,154 198,154 199,154 200,154.1 201,154.2 202,154.3 203,154.4 204,154.5 205,154.7 206,154.8 207,154.9 208,155.1 209,155.2 210,155.3 211,155.5 212,155.6 213,155.7 214,155.8 215,155.9 216,156 217,156 218,156 219,156 220,156 221,156 222,156 223,155.9 224,155.8 225,155.8 226,155.7 227,155.6 228,155.4 229,155.3 230,155.2 231,155.1 232,154.9 233,154.8 234,154.7 235,154.5 236,154.4 237,154.3 238,154.2 239,154.1 240,153.9 241,153.8 242,153.7 243,153.6 244,153.5 245,153.4 246,153.3 247,153.2 248,153.1 249,153 250,153 251,152.9 252,152.8 253,152.7 254,152.6 255,152.5 256,152.4 257,152.3 258,152.2 259,152.1 260,152 261,151.9 262,151.8 263,151.7 264,151.6 265,151.5 266,151.3 267,151.2 268,151.1 269,151 270,150.8 271,150.7 272,150.6 273,150.5 274,150.3 275,150.2 276,150 277,149.9 278,149.8 279,149.6 280,149.5 281,149.3 282,149.2 283,149 284,148.9 285,148.7 286,148.6 287,148.5 288,148.3 289,148.2 290,148 291,147.9 292,147.7 293,147.6 294,147.4 295,147.3 296,147.1 297,147 298,146.8 299,146.7 300,146.5 301,146.4 302,146.2 303,146.1 304,145.9 305,145.8 306,145.6 307,145.5 308,145.3 309,145.2 310,145 311,144.9 312,144.7 313,144.6 314,144.4 315,144.3 316,144.2 317,144 318,143.9 319,143.7 320,143.6 321,143.4 322,143.3 323,143.1 324,143 325,142.8 326,142.7 327,142.5 328,142.4 329,142.2 L329,241 L128,241 Z"/>
<path id="ps1983b2" d="M128,195.8 129,196.4 130,197 131,197.7 132,198.2 133,198.8 134,199.4 135,200 136,200.5 137,201.1 138,201.6 139,202.2 140,202.7 141,203.2 142,203.7 143,204.1 144,204.5 145,204.9 146,205.2 147,205.5 148,205.7 149,205.9 150,206 151,206.1 152,206.1 153,206 154,205.9 155,205.7 156,205.4 157,205.1 158,204.7 159,204.2 160,203.7 161,203.2 162,202.6 163,202 164,201.4 165,200.8 166,200.1 167,199.4 168,198.7 169,198 170,197.2 171,196.5 172,195.8 173,195 174,194.3 175,193.5 176,192.7 177,192 178,191.2 179,190.5 180,189.8 181,189.1 182,188.4 183,187.7 184,187 185,186.4 186,185.8 187,185.2 188,184.7 189,184.1 190,183.7 191,183.2 192,182.8 193,182.4 194,182.1 195,181.8 196,181.6 197,181.4 198,181.3 199,181.2 200,181.1 201,181.1 202,181 203,181.1 204,181.1 205,181.1 206,181.2 207,181.3 208,181.4 209,181.4 210,181.5 211,181.6 212,181.7 213,181.7 214,181.8 215,181.8 216,181.8 217,181.8 218,181.8 219,181.7 220,181.6 221,181.5 222,181.4 223,181.3 224,181.1 225,180.9 226,180.7 227,180.5 228,180.3 229,180.1 230,179.9 231,179.7 232,179.5 233,179.3 234,179 235,178.8 236,178.6 237,178.4 238,178.3 239,178.1 240,177.9 241,177.7 242,177.6 243,177.4 244,177.3 245,177.2 246,177 247,176.9 248,176.8 249,176.7 250,176.5 251,176.4 252,176.3 253,176.2 254,176.1 255,176 256,175.9 257,175.7 258,175.6 259,175.5 260,175.4 261,175.3 262,175.1 263,175 264,174.8 265,174.7 266,174.6 267,174.4 268,174.3 269,174.1 270,173.9 271,173.8 272,173.6 273,173.4 274,173.3 275,173.1 276,172.9 277,172.7 278,172.6 279,172.4 280,172.2 281,172 282,171.9 283,171.7 284,171.5 285,171.3 286,171.1 287,170.9 288,170.8 289,170.6 290,170.4 291,170.2 292,170 293,169.9 294,169.7 295,169.5 296,169.3 297,169.1 298,169 299,168.8 300,168.6 301,168.4 302,168.2 303,168.1 304,167.9 305,167.7 306,167.5 307,167.4 308,167.2 309,167 310,166.8 311,166.7 312,166.5 313,166.3 314,166.1 315,165.9 316,165.8 317,165.6 318,165.4 319,165.2 320,165.1 321,164.9 322,164.7 323,164.5 324,164.4 325,164.2 326,164 327,163.8 328,163.6 329,163.5 L329,241 L128,241 Z"/>
<path id="ps1983b1" d="M128,195.8 129,196.4 130,197 131,197.7 132,198.3 133,199 134,199.6 135,200.3 136,200.9 137,201.5 138,202.2 139,202.8 140,203.4 141,204 142,204.5 143,205.1 144,205.6 145,206 146,206.5 147,206.9 148,207.3 149,207.6 150,207.9 151,208.1 152,208.3 153,208.5 154,208.6 155,208.6 156,208.6 157,208.5 158,208.4 159,208.3 160,208.2 161,208 162,207.9 163,207.7 164,207.6 165,207.4 166,207.3 167,207.1 168,207 169,206.9 170,206.7 171,206.6 172,206.5 173,206.3 174,206.2 175,206.1 176,206 177,205.8 178,205.7 179,205.6 180,205.4 181,205.3 182,205.2 183,205 184,204.9 185,204.8 186,204.7 187,204.6 188,204.5 189,204.4 190,204.4 191,204.3 192,204.3 193,204.3 194,204.3 195,204.3 196,204.4 197,204.5 198,204.6 199,204.7 200,204.8 201,205 202,205.1 203,205.3 204,205.5 205,205.7 206,205.9 207,206.1 208,206.3 209,206.5 210,206.6 211,206.8 212,207 213,207.2 214,207.3 215,207.5 216,207.6 217,207.7 218,207.8 219,207.9 220,207.9 221,208 222,208 223,208 224,208 225,208 226,208 227,207.9 228,207.9 229,207.8 230,207.8 231,207.7 232,207.7 233,207.6 234,207.5 235,207.5 236,207.4 237,207.3 238,207.2 239,207.2 240,207.1 241,207 242,207 243,206.9 244,206.8 245,206.8 246,206.7 247,206.6 248,206.6 249,206.5 250,206.4 251,206.4 252,206.3 253,206.2 254,206.2 255,206.1 256,206.1 257,206 258,205.9 259,205.9 260,205.8 261,205.7 262,205.6 263,205.6 264,205.5 265,205.4 266,205.4 267,205.3 268,205.2 269,205.1 270,205 271,205 272,204.9 273,204.8 274,204.7 275,204.6 276,204.5 277,204.4 278,204.4 279,204.3 280,204.2 281,204.1 282,204 283,203.9 284,203.8 285,203.7 286,203.6 287,203.5 288,203.4 289,203.2 290,203.1 291,203 292,202.9 293,202.8 294,202.7 295,202.5 296,202.4 297,202.3 298,202.2 299,202.1 300,201.9 301,201.8 302,201.7 303,201.5 304,201.4 305,201.3 306,201.1 307,201 308,200.9 309,200.8 310,200.6 311,200.5 312,200.4 313,200.2 314,200.1 315,200 316,199.8 317,199.7 318,199.6 319,199.4 320,199.3 321,199.2 322,199 323,198.9 324,198.8 325,198.6 326,198.5 327,198.4 328,198.2 329,198.1 L329,241 L128,241 Z"/>
<clipPath id="cs1988"><rect x="398.0" y="136.0" width="196.0" height="99.0"/></clipPath>
<path id="ps1988b5" d="M395.7,136.5 396.7,137.1 397.7,137.8 398.7,138.5 399.7,139.2 400.7,139.9 401.7,140.5 402.7,141.2 403.7,141.9 404.7,142.6 405.7,143.3 406.7,143.9 407.7,144.6 408.7,145.3 409.7,146 410.7,146.7 411.7,147.4 412.7,148 413.7,148.7 414.7,149.3 415.7,150 416.7,150.5 417.7,151.1 418.7,151.6 419.7,152 420.7,152.4 421.7,152.8 422.7,153 423.7,153.3 424.7,153.4 425.7,153.6 426.7,153.6 427.7,153.7 428.7,153.7 429.7,153.6 430.7,153.6 431.7,153.5 432.7,153.4 433.7,153.2 434.7,153.1 435.7,152.9 436.7,152.8 437.7,152.6 438.7,152.4 439.7,152.2 440.7,152 441.7,151.7 442.7,151.5 443.7,151.2 444.7,151 445.7,150.7 446.7,150.5 447.7,150.2 448.7,150 449.7,149.7 450.7,149.5 451.7,149.2 452.7,149 453.7,148.7 454.7,148.5 455.7,148.2 456.7,148 457.7,147.8 458.7,147.6 459.7,147.4 460.7,147.2 461.7,147 462.7,146.9 463.7,146.7 464.7,146.6 465.7,146.5 466.7,146.4 467.7,146.3 468.7,146.2 469.7,146.2 470.7,146.1 471.7,146 472.7,146 473.7,146 474.7,145.9 475.7,145.9 476.7,145.9 477.7,145.8 478.7,145.8 479.7,145.8 480.7,145.8 481.7,145.8 482.7,145.7 483.7,145.7 484.7,145.7 485.7,145.6 486.7,145.6 487.7,145.5 488.7,145.5 489.7,145.4 490.7,145.4 491.7,145.3 492.7,145.2 493.7,145.2 494.7,145.1 495.7,145 496.7,145 497.7,144.9 498.7,144.8 499.7,144.7 500.7,144.6 501.7,144.6 502.7,144.5 503.7,144.4 504.7,144.3 505.7,144.3 506.7,144.2 507.7,144.1 508.7,144 509.7,144 510.7,143.9 511.7,143.8 512.7,143.7 513.7,143.7 514.7,143.6 515.7,143.5 516.7,143.5 517.7,143.4 518.7,143.3 519.7,143.3 520.7,143.2 521.7,143.1 522.7,143.1 523.7,143 524.7,142.9 525.7,142.9 526.7,142.8 527.7,142.8 528.7,142.7 529.7,142.7 530.7,142.6 531.7,142.6 532.7,142.5 533.7,142.5 534.7,142.4 535.7,142.4 536.7,142.3 537.7,142.3 538.7,142.2 539.7,142.2 540.7,142.1 541.7,142.1 542.7,142 543.7,142 544.7,142 545.7,141.9 546.7,141.9 547.7,141.8 548.7,141.8 549.7,141.7 550.7,141.7 551.7,141.6 552.7,141.6 553.7,141.5 554.7,141.5 555.7,141.5 556.7,141.4 557.7,141.4 558.7,141.3 559.7,141.3 560.7,141.2 561.7,141.1 562.7,141.1 563.7,141 564.7,141 565.7,140.9 566.7,140.9 567.7,140.8 568.7,140.8 569.7,140.7 570.7,140.7 571.7,140.6 572.7,140.5 573.7,140.5 574.7,140.4 575.7,140.4 576.7,140.3 577.7,140.3 578.7,140.2 579.7,140.1 580.7,140.1 581.7,140 582.7,140 583.7,139.9 584.7,139.8 585.7,139.8 586.7,139.7 587.7,139.7 588.7,139.6 589.7,139.6 590.7,139.5 591.7,139.4 592.7,139.4 593.7,139.3 594.7,139.3 595.7,139.2 596.7,139.2 L596.7,241 L395.7,241 Z"/>
<path id="ps1988b4" d="M395.7,150.8 396.7,151.4 397.7,152.1 398.7,152.7 399.7,153.3 400.7,153.9 401.7,154.5 402.7,155.2 403.7,155.8 404.7,156.4 405.7,157 406.7,157.6 407.7,158.2 408.7,158.8 409.7,159.3 410.7,159.9 411.7,160.4 412.7,160.9 413.7,161.4 414.7,161.8 415.7,162.2 416.7,162.6 417.7,162.9 418.7,163.1 419.7,163.3 420.7,163.4 421.7,163.5 422.7,163.5 423.7,163.5 424.7,163.4 425.7,163.2 426.7,163 427.7,162.8 428.7,162.6 429.7,162.3 430.7,162 431.7,161.7 432.7,161.5 433.7,161.2 434.7,160.9 435.7,160.6 436.7,160.3 437.7,160 438.7,159.7 439.7,159.4 440.7,159 441.7,158.7 442.7,158.4 443.7,158 444.7,157.7 445.7,157.3 446.7,156.9 447.7,156.5 448.7,156.1 449.7,155.7 450.7,155.3 451.7,154.9 452.7,154.5 453.7,154.1 454.7,153.7 455.7,153.3 456.7,153 457.7,152.6 458.7,152.3 459.7,151.9 460.7,151.6 461.7,151.3 462.7,151.1 463.7,150.8 464.7,150.6 465.7,150.4 466.7,150.3 467.7,150.1 468.7,150 469.7,149.8 470.7,149.7 471.7,149.6 472.7,149.6 473.7,149.5 474.7,149.4 475.7,149.4 476.7,149.3 477.7,149.3 478.7,149.3 479.7,149.2 480.7,149.2 481.7,149.1 482.7,149.1 483.7,149.1 484.7,149 485.7,148.9 486.7,148.9 487.7,148.8 488.7,148.7 489.7,148.6 490.7,148.5 491.7,148.4 492.7,148.3 493.7,148.2 494.7,148.1 495.7,148 496.7,147.9 497.7,147.7 498.7,147.6 499.7,147.5 500.7,147.4 501.7,147.2 502.7,147.1 503.7,147 504.7,146.8 505.7,146.7 506.7,146.6 507.7,146.4 508.7,146.3 509.7,146.2 510.7,146.1 511.7,145.9 512.7,145.8 513.7,145.7 514.7,145.6 515.7,145.5 516.7,145.3 517.7,145.2 518.7,145.1 519.7,145 520.7,144.9 521.7,144.8 522.7,144.7 523.7,144.6 524.7,144.5 525.7,144.4 526.7,144.3 527.7,144.2 528.7,144.1 529.7,144 530.7,143.9 531.7,143.8 532.7,143.7 533.7,143.7 534.7,143.6 535.7,143.5 536.7,143.4 537.7,143.4 538.7,143.3 539.7,143.2 540.7,143.2 541.7,143.1 542.7,143 543.7,143 544.7,142.9 545.7,142.8 546.7,142.8 547.7,142.7 548.7,142.7 549.7,142.6 550.7,142.6 551.7,142.5 552.7,142.4 553.7,142.4 554.7,142.3 555.7,142.3 556.7,142.2 557.7,142.2 558.7,142.1 559.7,142.1 560.7,142 561.7,142 562.7,141.9 563.7,141.9 564.7,141.8 565.7,141.8 566.7,141.7 567.7,141.7 568.7,141.6 569.7,141.5 570.7,141.5 571.7,141.4 572.7,141.4 573.7,141.3 574.7,141.3 575.7,141.2 576.7,141.2 577.7,141.1 578.7,141.1 579.7,141 580.7,141 581.7,140.9 582.7,140.9 583.7,140.8 584.7,140.8 585.7,140.7 586.7,140.7 587.7,140.6 588.7,140.6 589.7,140.5 590.7,140.5 591.7,140.4 592.7,140.4 593.7,140.3 594.7,140.3 595.7,140.2 596.7,140.2 L596.7,241 L395.7,241 Z"/>
<path id="ps1988b3" d="M395.7,189.2 396.7,189.8 397.7,189.5 398.7,189 399.7,188.5 400.7,188 401.7,187.5 402.7,187 403.7,186.5 404.7,186 405.7,185.5 406.7,185 407.7,184.5 408.7,184 409.7,183.5 410.7,183 411.7,182.5 412.7,182.1 413.7,181.6 414.7,181.2 415.7,180.7 416.7,180.3 417.7,179.9 418.7,179.5 419.7,179.1 420.7,178.7 421.7,178.4 422.7,178.1 423.7,177.7 424.7,177.4 425.7,177.2 426.7,176.9 427.7,176.6 428.7,176.3 429.7,176.1 430.7,175.8 431.7,175.5 432.7,175.2 433.7,174.9 434.7,174.6 435.7,174.3 436.7,174 437.7,173.6 438.7,173.2 439.7,172.8 440.7,172.4 441.7,172 442.7,171.5 443.7,171 444.7,170.5 445.7,170 446.7,169.4 447.7,168.9 448.7,168.3 449.7,167.7 450.7,167 451.7,166.4 452.7,165.8 453.7,165.1 454.7,164.5 455.7,163.9 456.7,163.3 457.7,162.7 458.7,162.1 459.7,161.6 460.7,161.1 461.7,160.7 462.7,160.3 463.7,159.9 464.7,159.7 465.7,159.4 466.7,159.2 467.7,159.1 468.7,158.9 469.7,158.8 470.7,158.7 471.7,158.7 472.7,158.6 473.7,158.6 474.7,158.5 475.7,158.4 476.7,158.4 477.7,158.3 478.7,158.2 479.7,158.1 480.7,158 481.7,157.9 482.7,157.8 483.7,157.8 484.7,157.7 485.7,157.6 486.7,157.5 487.7,157.4 488.7,157.4 489.7,157.3 490.7,157.2 491.7,157.2 492.7,157.1 493.7,157 494.7,157 495.7,156.9 496.7,156.9 497.7,156.8 498.7,156.8 499.7,156.7 500.7,156.7 501.7,156.6 502.7,156.6 503.7,156.5 504.7,156.5 505.7,156.5 506.7,156.4 507.7,156.4 508.7,156.3 509.7,156.3 510.7,156.2 511.7,156.2 512.7,156.1 513.7,156.1 514.7,156.1 515.7,156 516.7,156 517.7,155.9 518.7,155.9 519.7,155.8 520.7,155.8 521.7,155.7 522.7,155.6 523.7,155.6 524.7,155.5 525.7,155.5 526.7,155.4 527.7,155.3 528.7,155.2 529.7,155.2 530.7,155.1 531.7,155 532.7,154.9 533.7,154.8 534.7,154.7 535.7,154.7 536.7,154.6 537.7,154.5 538.7,154.4 539.7,154.3 540.7,154.2 541.7,154.1 542.7,154 543.7,153.9 544.7,153.8 545.7,153.7 546.7,153.5 547.7,153.4 548.7,153.3 549.7,153.2 550.7,153.1 551.7,153 552.7,152.9 553.7,152.8 554.7,152.7 555.7,152.6 556.7,152.4 557.7,152.3 558.7,152.2 559.7,152.1 560.7,152 561.7,151.9 562.7,151.8 563.7,151.7 564.7,151.6 565.7,151.5 566.7,151.4 567.7,151.3 568.7,151.2 569.7,151 570.7,150.9 571.7,150.8 572.7,150.7 573.7,150.6 574.7,150.5 575.7,150.4 576.7,150.3 577.7,150.2 578.7,150.1 579.7,150 580.7,149.9 581.7,149.8 582.7,149.7 583.7,149.6 584.7,149.5 585.7,149.3 586.7,149.2 587.7,149.1 588.7,149 589.7,148.9 590.7,148.8 591.7,148.7 592.7,148.6 593.7,148.5 594.7,148.4 595.7,148.3 596.7,148.2 L596.7,241 L395.7,241 Z"/>
<path id="ps1988b2" d="M395.7,189.2 396.7,189.8 397.7,190.4 398.7,191 399.7,191.6 400.7,192.2 401.7,192.9 402.7,193.5 403.7,194.1 404.7,194.7 405.7,195.3 406.7,195.9 407.7,196.5 408.7,197.1 409.7,197.7 410.7,198.2 411.7,198.7 412.7,199.2 413.7,199.7 414.7,200.2 415.7,200.6 416.7,201 417.7,201.4 418.7,201.8 419.7,202.1 420.7,202.5 421.7,202.8 422.7,203 423.7,203.3 424.7,203.5 425.7,203.7 426.7,203.9 427.7,204 428.7,204.2 429.7,204.3 430.7,204.3 431.7,204.4 432.7,204.4 433.7,204.4 434.7,204.3 435.7,204.3 436.7,204.2 437.7,204 438.7,203.8 439.7,203.5 440.7,203.2 441.7,202.8 442.7,202.3 443.7,201.7 444.7,201 445.7,200.2 446.7,199.3 447.7,198.4 448.7,197.3 449.7,196.3 450.7,195.2 451.7,194.1 452.7,193 453.7,192 454.7,191 455.7,190.1 456.7,189.2 457.7,188.4 458.7,187.6 459.7,186.9 460.7,186.3 461.7,185.8 462.7,185.3 463.7,184.9 464.7,184.6 465.7,184.3 466.7,184.1 467.7,183.9 468.7,183.8 469.7,183.7 470.7,183.6 471.7,183.6 472.7,183.5 473.7,183.5 474.7,183.5 475.7,183.5 476.7,183.4 477.7,183.4 478.7,183.4 479.7,183.3 480.7,183.2 481.7,183.2 482.7,183.1 483.7,183.1 484.7,183 485.7,182.9 486.7,182.9 487.7,182.8 488.7,182.7 489.7,182.6 490.7,182.6 491.7,182.5 492.7,182.4 493.7,182.3 494.7,182.2 495.7,182.1 496.7,182 497.7,182 498.7,181.9 499.7,181.8 500.7,181.7 501.7,181.6 502.7,181.5 503.7,181.4 504.7,181.3 505.7,181.2 506.7,181.2 507.7,181.1 508.7,181 509.7,180.9 510.7,180.8 511.7,180.7 512.7,180.6 513.7,180.5 514.7,180.4 515.7,180.4 516.7,180.3 517.7,180.2 518.7,180.1 519.7,180 520.7,179.9 521.7,179.8 522.7,179.7 523.7,179.6 524.7,179.5 525.7,179.4 526.7,179.3 527.7,179.2 528.7,179.1 529.7,179 530.7,178.9 531.7,178.8 532.7,178.7 533.7,178.6 534.7,178.5 535.7,178.3 536.7,178.2 537.7,178.1 538.7,178 539.7,177.9 540.7,177.8 541.7,177.6 542.7,177.5 543.7,177.4 544.7,177.3 545.7,177.2 546.7,177 547.7,176.9 548.7,176.8 549.7,176.6 550.7,176.5 551.7,176.4 552.7,176.3 553.7,176.1 554.7,176 555.7,175.9 556.7,175.7 557.7,175.6 558.7,175.5 559.7,175.3 560.7,175.2 561.7,175.1 562.7,174.9 563.7,174.8 564.7,174.7 565.7,174.5 566.7,174.4 567.7,174.3 568.7,174.1 569.7,174 570.7,173.8 571.7,173.7 572.7,173.6 573.7,173.4 574.7,173.3 575.7,173.2 576.7,173 577.7,172.9 578.7,172.7 579.7,172.6 580.7,172.5 581.7,172.3 582.7,172.2 583.7,172 584.7,171.9 585.7,171.8 586.7,171.6 587.7,171.5 588.7,171.4 589.7,171.2 590.7,171.1 591.7,170.9 592.7,170.8 593.7,170.7 594.7,170.5 595.7,170.4 596.7,170.3 L596.7,241 L395.7,241 Z"/>
<path id="ps1988b1" d="M395.7,189.2 396.7,189.8 397.7,190.4 398.7,191 399.7,191.6 400.7,192.2 401.7,192.9 402.7,193.5 403.7,194.1 404.7,194.7 405.7,195.3 406.7,195.9 407.7,196.5 408.7,197.1 409.7,197.7 410.7,198.2 411.7,198.7 412.7,199.3 413.7,199.8 414.7,200.2 415.7,200.7 416.7,201.1 417.7,201.6 418.7,202 419.7,202.4 420.7,202.8 421.7,203.1 422.7,203.5 423.7,203.8 424.7,204.1 425.7,204.4 426.7,204.7 427.7,205 428.7,205.3 429.7,205.5 430.7,205.8 431.7,206.1 432.7,206.4 433.7,206.6 434.7,206.9 435.7,207.1 436.7,207.3 437.7,207.5 438.7,207.7 439.7,207.8 440.7,207.9 441.7,207.9 442.7,207.9 443.7,207.8 444.7,207.7 445.7,207.5 446.7,207.2 447.7,206.9 448.7,206.6 449.7,206.2 450.7,205.8 451.7,205.4 452.7,205 453.7,204.7 454.7,204.3 455.7,204 456.7,203.8 457.7,203.5 458.7,203.3 459.7,203.2 460.7,203.1 461.7,203 462.7,203 463.7,203 464.7,203.1 465.7,203.2 466.7,203.3 467.7,203.5 468.7,203.7 469.7,203.9 470.7,204.1 471.7,204.4 472.7,204.7 473.7,204.9 474.7,205.2 475.7,205.4 476.7,205.7 477.7,205.9 478.7,206.1 479.7,206.4 480.7,206.6 481.7,206.8 482.7,207 483.7,207.2 484.7,207.3 485.7,207.5 486.7,207.6 487.7,207.8 488.7,207.9 489.7,208 490.7,208.1 491.7,208.1 492.7,208.2 493.7,208.3 494.7,208.3 495.7,208.4 496.7,208.4 497.7,208.4 498.7,208.5 499.7,208.5 500.7,208.5 501.7,208.5 502.7,208.5 503.7,208.5 504.7,208.5 505.7,208.5 506.7,208.5 507.7,208.5 508.7,208.5 509.7,208.5 510.7,208.5 511.7,208.4 512.7,208.4 513.7,208.4 514.7,208.4 515.7,208.4 516.7,208.4 517.7,208.3 518.7,208.3 519.7,208.3 520.7,208.3 521.7,208.2 522.7,208.2 523.7,208.2 524.7,208.2 525.7,208.1 526.7,208.1 527.7,208.1 528.7,208 529.7,208 530.7,208 531.7,207.9 532.7,207.9 533.7,207.9 534.7,207.8 535.7,207.8 536.7,207.7 537.7,207.7 538.7,207.7 539.7,207.6 540.7,207.6 541.7,207.5 542.7,207.5 543.7,207.4 544.7,207.4 545.7,207.3 546.7,207.3 547.7,207.2 548.7,207.2 549.7,207.1 550.7,207.1 551.7,207 552.7,207 553.7,206.9 554.7,206.8 555.7,206.8 556.7,206.7 557.7,206.6 558.7,206.6 559.7,206.5 560.7,206.5 561.7,206.4 562.7,206.3 563.7,206.2 564.7,206.2 565.7,206.1 566.7,206 567.7,206 568.7,205.9 569.7,205.8 570.7,205.7 571.7,205.7 572.7,205.6 573.7,205.5 574.7,205.4 575.7,205.4 576.7,205.3 577.7,205.2 578.7,205.1 579.7,205.1 580.7,205 581.7,204.9 582.7,204.8 583.7,204.8 584.7,204.7 585.7,204.6 586.7,204.5 587.7,204.4 588.7,204.4 589.7,204.3 590.7,204.2 591.7,204.1 592.7,204.1 593.7,204 594.7,203.9 595.7,203.9 596.7,203.8 L596.7,241 L395.7,241 Z"/>
<clipPath id="cs1993"><rect x="666.0" y="136.0" width="196.0" height="99.0"/></clipPath>
<path id="ps1993b5" d="M663.3,132.3 664.3,132.4 665.3,132.6 666.3,132.7 667.3,132.8 668.3,132.9 669.3,133 670.3,133.1 671.3,133.2 672.3,133.3 673.3,133.4 674.3,133.5 675.3,133.6 676.3,133.8 677.3,133.9 678.3,134 679.3,134.1 680.3,134.2 681.3,134.4 682.3,134.5 683.3,134.7 684.3,134.8 685.3,135 686.3,135.1 687.3,135.3 688.3,135.5 689.3,135.7 690.3,135.9 691.3,136.1 692.3,136.3 693.3,136.6 694.3,136.8 695.3,137.1 696.3,137.4 697.3,137.8 698.3,138.1 699.3,138.4 700.3,138.8 701.3,139.1 702.3,139.5 703.3,139.8 704.3,140.2 705.3,140.5 706.3,140.8 707.3,141 708.3,141.3 709.3,141.5 710.3,141.7 711.3,141.9 712.3,142.1 713.3,142.3 714.3,142.5 715.3,142.6 716.3,142.7 717.3,142.9 718.3,143 719.3,143.1 720.3,143.2 721.3,143.4 722.3,143.5 723.3,143.6 724.3,143.7 725.3,143.8 726.3,143.9 727.3,144 728.3,144.1 729.3,144.2 730.3,144.3 731.3,144.4 732.3,144.5 733.3,144.6 734.3,144.7 735.3,144.8 736.3,144.9 737.3,145 738.3,145.1 739.3,145.2 740.3,145.2 741.3,145.3 742.3,145.4 743.3,145.4 744.3,145.5 745.3,145.5 746.3,145.6 747.3,145.6 748.3,145.6 749.3,145.6 750.3,145.7 751.3,145.7 752.3,145.7 753.3,145.7 754.3,145.6 755.3,145.6 756.3,145.6 757.3,145.6 758.3,145.5 759.3,145.5 760.3,145.4 761.3,145.4 762.3,145.3 763.3,145.3 764.3,145.2 765.3,145.1 766.3,145.1 767.3,145 768.3,145 769.3,144.9 770.3,144.8 771.3,144.8 772.3,144.7 773.3,144.6 774.3,144.6 775.3,144.5 776.3,144.4 777.3,144.4 778.3,144.3 779.3,144.3 780.3,144.2 781.3,144.2 782.3,144.1 783.3,144.1 784.3,144 785.3,144 786.3,143.9 787.3,143.9 788.3,143.9 789.3,143.8 790.3,143.8 791.3,143.7 792.3,143.7 793.3,143.7 794.3,143.6 795.3,143.6 796.3,143.5 797.3,143.5 798.3,143.5 799.3,143.4 800.3,143.4 801.3,143.4 802.3,143.3 803.3,143.3 804.3,143.3 805.3,143.2 806.3,143.2 807.3,143.2 808.3,143.1 809.3,143.1 810.3,143.1 811.3,143 812.3,143 813.3,143 814.3,142.9 815.3,142.9 816.3,142.9 817.3,142.8 818.3,142.8 819.3,142.8 820.3,142.7 821.3,142.7 822.3,142.7 823.3,142.6 824.3,142.6 825.3,142.6 826.3,142.5 827.3,142.5 828.3,142.5 829.3,142.4 830.3,142.4 831.3,142.4 832.3,142.3 833.3,142.3 834.3,142.3 835.3,142.2 836.3,142.2 837.3,142.2 838.3,142.1 839.3,142.1 840.3,142.1 841.3,142 842.3,142 843.3,142 844.3,141.9 845.3,141.9 846.3,141.9 847.3,141.8 848.3,141.8 849.3,141.8 850.3,141.7 851.3,141.7 852.3,141.6 853.3,141.6 854.3,141.6 855.3,141.5 856.3,141.5 857.3,141.5 858.3,141.4 859.3,141.4 860.3,141.4 861.3,141.3 862.3,141.3 863.3,141.3 864.3,141.2 L864.3,241 L663.3,241 Z"/>
<path id="ps1993b4" d="M663.3,198.9 664.3,196.3 665.3,193.6 666.3,191 667.3,188.4 668.3,185.7 669.3,183.1 670.3,180.4 671.3,177.8 672.3,175.2 673.3,172.6 674.3,170 675.3,167.5 676.3,165 677.3,162.5 678.3,160.2 679.3,157.9 680.3,155.7 681.3,153.7 682.3,151.7 683.3,149.9 684.3,148.3 685.3,146.9 686.3,145.6 687.3,144.6 688.3,143.8 689.3,143.3 690.3,142.9 691.3,142.7 692.3,142.7 693.3,142.7 694.3,142.9 695.3,143.2 696.3,143.6 697.3,144.1 698.3,144.6 699.3,145.2 700.3,145.8 701.3,146.4 702.3,147.1 703.3,147.7 704.3,148.4 705.3,149 706.3,149.5 707.3,150 708.3,150.4 709.3,150.8 710.3,151.1 711.3,151.3 712.3,151.5 713.3,151.6 714.3,151.7 715.3,151.7 716.3,151.7 717.3,151.7 718.3,151.6 719.3,151.6 720.3,151.5 721.3,151.4 722.3,151.4 723.3,151.3 724.3,151.3 725.3,151.2 726.3,151.2 727.3,151.2 728.3,151.2 729.3,151.2 730.3,151.2 731.3,151.2 732.3,151.2 733.3,151.2 734.3,151.2 735.3,151.2 736.3,151.3 737.3,151.3 738.3,151.3 739.3,151.3 740.3,151.4 741.3,151.4 742.3,151.4 743.3,151.4 744.3,151.4 745.3,151.4 746.3,151.4 747.3,151.3 748.3,151.3 749.3,151.2 750.3,151.2 751.3,151.1 752.3,151 753.3,150.9 754.3,150.8 755.3,150.7 756.3,150.6 757.3,150.4 758.3,150.2 759.3,150.1 760.3,149.9 761.3,149.7 762.3,149.5 763.3,149.4 764.3,149.2 765.3,149 766.3,148.8 767.3,148.6 768.3,148.4 769.3,148.2 770.3,148.1 771.3,147.9 772.3,147.7 773.3,147.6 774.3,147.4 775.3,147.3 776.3,147.2 777.3,147 778.3,146.9 779.3,146.8 780.3,146.7 781.3,146.6 782.3,146.5 783.3,146.4 784.3,146.4 785.3,146.3 786.3,146.2 787.3,146.2 788.3,146.1 789.3,146 790.3,146 791.3,145.9 792.3,145.9 793.3,145.8 794.3,145.8 795.3,145.8 796.3,145.7 797.3,145.7 798.3,145.6 799.3,145.6 800.3,145.6 801.3,145.5 802.3,145.5 803.3,145.4 804.3,145.4 805.3,145.4 806.3,145.3 807.3,145.3 808.3,145.3 809.3,145.2 810.3,145.2 811.3,145.1 812.3,145.1 813.3,145.1 814.3,145 815.3,145 816.3,144.9 817.3,144.9 818.3,144.9 819.3,144.8 820.3,144.8 821.3,144.7 822.3,144.7 823.3,144.6 824.3,144.6 825.3,144.5 826.3,144.5 827.3,144.5 828.3,144.4 829.3,144.4 830.3,144.3 831.3,144.3 832.3,144.2 833.3,144.2 834.3,144.1 835.3,144.1 836.3,144 837.3,144 838.3,143.9 839.3,143.8 840.3,143.8 841.3,143.7 842.3,143.7 843.3,143.6 844.3,143.6 845.3,143.5 846.3,143.5 847.3,143.4 848.3,143.4 849.3,143.3 850.3,143.3 851.3,143.2 852.3,143.1 853.3,143.1 854.3,143 855.3,143 856.3,142.9 857.3,142.9 858.3,142.8 859.3,142.8 860.3,142.7 861.3,142.7 862.3,142.6 863.3,142.6 864.3,142.5 L864.3,241 L663.3,241 Z"/>
<path id="ps1993b3" d="M663.3,234.4 664.3,232.4 665.3,230.1 666.3,227.7 667.3,225.3 668.3,222.8 669.3,220.4 670.3,218.1 671.3,215.7 672.3,213.4 673.3,211.2 674.3,209 675.3,206.9 676.3,204.9 677.3,202.9 678.3,200.9 679.3,199 680.3,197.2 681.3,195.4 682.3,193.7 683.3,192 684.3,190.3 685.3,188.8 686.3,187.3 687.3,185.9 688.3,184.7 689.3,183.5 690.3,182.5 691.3,181.5 692.3,180.7 693.3,180 694.3,179.3 695.3,178.7 696.3,178.2 697.3,177.7 698.3,177.2 699.3,176.8 700.3,176.4 701.3,176.1 702.3,175.7 703.3,175.3 704.3,174.9 705.3,174.5 706.3,174.1 707.3,173.7 708.3,173.2 709.3,172.7 710.3,172.2 711.3,171.6 712.3,171 713.3,170.5 714.3,169.9 715.3,169.3 716.3,168.7 717.3,168 718.3,167.4 719.3,166.8 720.3,166.2 721.3,165.7 722.3,165.1 723.3,164.5 724.3,164 725.3,163.5 726.3,163 727.3,162.6 728.3,162.2 729.3,161.8 730.3,161.5 731.3,161.2 732.3,161 733.3,160.9 734.3,160.7 735.3,160.6 736.3,160.6 737.3,160.5 738.3,160.5 739.3,160.5 740.3,160.5 741.3,160.6 742.3,160.6 743.3,160.7 744.3,160.8 745.3,160.8 746.3,160.9 747.3,160.9 748.3,161 749.3,161 750.3,161 751.3,161 752.3,161 753.3,161 754.3,160.9 755.3,160.8 756.3,160.7 757.3,160.5 758.3,160.4 759.3,160.2 760.3,160 761.3,159.8 762.3,159.6 763.3,159.4 764.3,159.2 765.3,159 766.3,158.8 767.3,158.6 768.3,158.4 769.3,158.2 770.3,158 771.3,157.9 772.3,157.7 773.3,157.6 774.3,157.4 775.3,157.3 776.3,157.2 777.3,157.2 778.3,157.1 779.3,157 780.3,157 781.3,156.9 782.3,156.9 783.3,156.9 784.3,156.9 785.3,156.9 786.3,156.8 787.3,156.8 788.3,156.8 789.3,156.8 790.3,156.9 791.3,156.9 792.3,156.9 793.3,156.9 794.3,156.9 795.3,156.9 796.3,156.9 797.3,156.8 798.3,156.8 799.3,156.8 800.3,156.8 801.3,156.7 802.3,156.7 803.3,156.6 804.3,156.6 805.3,156.5 806.3,156.5 807.3,156.4 808.3,156.3 809.3,156.3 810.3,156.2 811.3,156.1 812.3,156 813.3,156 814.3,155.9 815.3,155.8 816.3,155.7 817.3,155.6 818.3,155.5 819.3,155.5 820.3,155.4 821.3,155.3 822.3,155.2 823.3,155.1 824.3,155 825.3,154.9 826.3,154.9 827.3,154.8 828.3,154.7 829.3,154.6 830.3,154.5 831.3,154.5 832.3,154.4 833.3,154.3 834.3,154.2 835.3,154.2 836.3,154.1 837.3,154 838.3,154 839.3,153.9 840.3,153.8 841.3,153.7 842.3,153.7 843.3,153.6 844.3,153.5 845.3,153.5 846.3,153.4 847.3,153.3 848.3,153.2 849.3,153.2 850.3,153.1 851.3,153 852.3,153 853.3,152.9 854.3,152.8 855.3,152.8 856.3,152.7 857.3,152.6 858.3,152.5 859.3,152.5 860.3,152.4 861.3,152.3 862.3,152.3 863.3,152.2 864.3,152.1 L864.3,241 L663.3,241 Z"/>
<path id="ps1993b2" d="M663.3,234.4 664.3,232.4 665.3,230.5 666.3,228.5 667.3,226.4 668.3,224.3 669.3,222.3 670.3,220.2 671.3,218 672.3,215.9 673.3,213.7 674.3,211.5 675.3,209.4 676.3,207.3 677.3,205.3 678.3,203.4 679.3,201.7 680.3,200.2 681.3,198.9 682.3,197.9 683.3,197.2 684.3,196.6 685.3,196.2 686.3,196 687.3,195.9 688.3,195.9 689.3,196 690.3,196.1 691.3,196.3 692.3,196.6 693.3,196.9 694.3,197.2 695.3,197.5 696.3,197.9 697.3,198.4 698.3,198.8 699.3,199.3 700.3,199.8 701.3,200.4 702.3,200.9 703.3,201.4 704.3,201.8 705.3,202.2 706.3,202.6 707.3,202.8 708.3,203 709.3,203 710.3,202.9 711.3,202.7 712.3,202.4 713.3,202 714.3,201.5 715.3,200.9 716.3,200.4 717.3,199.8 718.3,199.1 719.3,198.5 720.3,197.9 721.3,197.3 722.3,196.7 723.3,196.1 724.3,195.6 725.3,195.1 726.3,194.6 727.3,194.1 728.3,193.7 729.3,193.3 730.3,192.9 731.3,192.6 732.3,192.2 733.3,191.9 734.3,191.7 735.3,191.4 736.3,191.2 737.3,191 738.3,190.8 739.3,190.7 740.3,190.5 741.3,190.4 742.3,190.2 743.3,190.1 744.3,189.9 745.3,189.8 746.3,189.6 747.3,189.5 748.3,189.3 749.3,189.1 750.3,189 751.3,188.8 752.3,188.6 753.3,188.4 754.3,188.1 755.3,187.9 756.3,187.7 757.3,187.4 758.3,187.1 759.3,186.9 760.3,186.6 761.3,186.3 762.3,186.1 763.3,185.8 764.3,185.5 765.3,185.3 766.3,185 767.3,184.7 768.3,184.5 769.3,184.2 770.3,184 771.3,183.8 772.3,183.6 773.3,183.4 774.3,183.2 775.3,183 776.3,182.9 777.3,182.7 778.3,182.6 779.3,182.4 780.3,182.3 781.3,182.2 782.3,182.1 783.3,182 784.3,181.9 785.3,181.8 786.3,181.8 787.3,181.7 788.3,181.6 789.3,181.6 790.3,181.5 791.3,181.4 792.3,181.4 793.3,181.3 794.3,181.2 795.3,181.2 796.3,181.1 797.3,181 798.3,180.9 799.3,180.9 800.3,180.8 801.3,180.7 802.3,180.6 803.3,180.5 804.3,180.4 805.3,180.3 806.3,180.2 807.3,180.1 808.3,180 809.3,179.9 810.3,179.8 811.3,179.7 812.3,179.6 813.3,179.5 814.3,179.4 815.3,179.3 816.3,179.2 817.3,179.1 818.3,179 819.3,178.8 820.3,178.7 821.3,178.6 822.3,178.5 823.3,178.4 824.3,178.3 825.3,178.2 826.3,178.1 827.3,178 828.3,177.9 829.3,177.8 830.3,177.8 831.3,177.7 832.3,177.6 833.3,177.5 834.3,177.4 835.3,177.3 836.3,177.2 837.3,177.1 838.3,177.1 839.3,177 840.3,176.9 841.3,176.8 842.3,176.7 843.3,176.6 844.3,176.6 845.3,176.5 846.3,176.4 847.3,176.3 848.3,176.2 849.3,176.2 850.3,176.1 851.3,176 852.3,175.9 853.3,175.8 854.3,175.7 855.3,175.7 856.3,175.6 857.3,175.5 858.3,175.4 859.3,175.3 860.3,175.3 861.3,175.2 862.3,175.1 863.3,175 864.3,174.9 L864.3,241 L663.3,241 Z"/>
<path id="ps1993b1" d="M663.3,234.4 664.3,232.4 665.3,230.5 666.3,228.5 667.3,226.5 668.3,224.6 669.3,222.6 670.3,220.7 671.3,218.7 672.3,216.7 673.3,214.6 674.3,212.6 675.3,210.6 676.3,208.6 677.3,206.7 678.3,205 679.3,203.3 680.3,201.9 681.3,200.6 682.3,199.6 683.3,198.7 684.3,198 685.3,197.5 686.3,197.2 687.3,197 688.3,196.8 689.3,196.8 690.3,196.9 691.3,197 692.3,197.2 693.3,197.5 694.3,197.8 695.3,198.2 696.3,198.7 697.3,199.1 698.3,199.6 699.3,200.2 700.3,200.7 701.3,201.3 702.3,201.9 703.3,202.4 704.3,203 705.3,203.4 706.3,203.9 707.3,204.2 708.3,204.5 709.3,204.7 710.3,204.7 711.3,204.7 712.3,204.6 713.3,204.4 714.3,204.1 715.3,203.8 716.3,203.5 717.3,203.1 718.3,202.7 719.3,202.3 720.3,202 721.3,201.6 722.3,201.3 723.3,201 724.3,200.8 725.3,200.6 726.3,200.4 727.3,200.2 728.3,200.1 729.3,200.1 730.3,200.1 731.3,200.2 732.3,200.3 733.3,200.5 734.3,200.7 735.3,201 736.3,201.3 737.3,201.6 738.3,202 739.3,202.3 740.3,202.7 741.3,203 742.3,203.4 743.3,203.7 744.3,204 745.3,204.3 746.3,204.6 747.3,204.8 748.3,205.1 749.3,205.3 750.3,205.5 751.3,205.7 752.3,205.9 753.3,206.1 754.3,206.3 755.3,206.5 756.3,206.6 757.3,206.8 758.3,206.9 759.3,207 760.3,207.1 761.3,207.3 762.3,207.4 763.3,207.5 764.3,207.5 765.3,207.6 766.3,207.7 767.3,207.8 768.3,207.8 769.3,207.9 770.3,207.9 771.3,208 772.3,208 773.3,208 774.3,208 775.3,208.1 776.3,208.1 777.3,208.1 778.3,208.1 779.3,208.1 780.3,208.1 781.3,208.1 782.3,208 783.3,208 784.3,208 785.3,208 786.3,208 787.3,207.9 788.3,207.9 789.3,207.9 790.3,207.9 791.3,207.8 792.3,207.8 793.3,207.8 794.3,207.8 795.3,207.7 796.3,207.7 797.3,207.7 798.3,207.7 799.3,207.6 800.3,207.6 801.3,207.6 802.3,207.6 803.3,207.6 804.3,207.5 805.3,207.5 806.3,207.5 807.3,207.5 808.3,207.5 809.3,207.5 810.3,207.5 811.3,207.5 812.3,207.5 813.3,207.4 814.3,207.4 815.3,207.4 816.3,207.4 817.3,207.4 818.3,207.4 819.3,207.4 820.3,207.4 821.3,207.4 822.3,207.3 823.3,207.3 824.3,207.3 825.3,207.3 826.3,207.3 827.3,207.3 828.3,207.2 829.3,207.2 830.3,207.2 831.3,207.2 832.3,207.1 833.3,207.1 834.3,207.1 835.3,207.1 836.3,207 837.3,207 838.3,207 839.3,207 840.3,206.9 841.3,206.9 842.3,206.9 843.3,206.9 844.3,206.8 845.3,206.8 846.3,206.8 847.3,206.7 848.3,206.7 849.3,206.7 850.3,206.6 851.3,206.6 852.3,206.6 853.3,206.6 854.3,206.5 855.3,206.5 856.3,206.5 857.3,206.4 858.3,206.4 859.3,206.4 860.3,206.4 861.3,206.3 862.3,206.3 863.3,206.3 864.3,206.3 L864.3,241 L663.3,241 Z"/>
<clipPath id="cs1998"><rect x="933.0" y="136.0" width="196.0" height="99.0"/></clipPath>
<path id="ps1998b5" d="M931,144.1 932,143.6 933,143.1 934,142.7 935,142.2 936,141.7 937,141.2 938,140.7 939,140.2 940,139.7 941,139.3 942,138.8 943,138.4 944,138 945,137.6 946,137.3 947,137 948,136.8 949,136.5 950,136.3 951,136.2 952,136.1 953,136 954,136 955,136 956,136.1 957,136.2 958,136.3 959,136.5 960,136.7 961,137 962,137.3 963,137.6 964,138 965,138.4 966,138.9 967,139.3 968,139.8 969,140.3 970,140.8 971,141.3 972,141.8 973,142.2 974,142.7 975,143.1 976,143.5 977,143.8 978,144.2 979,144.5 980,144.8 981,145.1 982,145.3 983,145.5 984,145.8 985,146 986,146.1 987,146.3 988,146.5 989,146.6 990,146.7 991,146.9 992,147 993,147.1 994,147.2 995,147.3 996,147.4 997,147.5 998,147.6 999,147.6 1000,147.7 1001,147.8 1002,147.8 1003,147.9 1004,147.9 1005,147.9 1006,148 1007,148 1008,148 1009,148 1010,148 1011,148 1012,148.1 1013,148.1 1014,148.1 1015,148 1016,148 1017,148 1018,148 1019,148 1020,148 1021,148 1022,148 1023,148 1024,148 1025,148 1026,148 1027,147.9 1028,147.9 1029,147.9 1030,147.9 1031,147.9 1032,147.9 1033,147.9 1034,147.8 1035,147.8 1036,147.8 1037,147.8 1038,147.8 1039,147.7 1040,147.7 1041,147.7 1042,147.6 1043,147.6 1044,147.5 1045,147.5 1046,147.4 1047,147.4 1048,147.3 1049,147.3 1050,147.2 1051,147.2 1052,147.1 1053,147.1 1054,147 1055,146.9 1056,146.9 1057,146.8 1058,146.8 1059,146.7 1060,146.7 1061,146.6 1062,146.5 1063,146.5 1064,146.4 1065,146.4 1066,146.3 1067,146.3 1068,146.2 1069,146.2 1070,146.1 1071,146.1 1072,146 1073,146 1074,145.9 1075,145.9 1076,145.8 1077,145.8 1078,145.8 1079,145.7 1080,145.7 1081,145.6 1082,145.6 1083,145.5 1084,145.5 1085,145.4 1086,145.4 1087,145.3 1088,145.3 1089,145.3 1090,145.2 1091,145.1 1092,145.1 1093,145 1094,145 1095,144.9 1096,144.9 1097,144.8 1098,144.8 1099,144.7 1100,144.6 1101,144.6 1102,144.5 1103,144.4 1104,144.4 1105,144.3 1106,144.2 1107,144.2 1108,144.1 1109,144 1110,144 1111,143.9 1112,143.8 1113,143.8 1114,143.7 1115,143.6 1116,143.6 1117,143.5 1118,143.4 1119,143.4 1120,143.3 1121,143.2 1122,143.1 1123,143.1 1124,143 1125,142.9 1126,142.9 1127,142.8 1128,142.7 1129,142.7 1130,142.6 1131,142.5 1132,142.5 L1132,241 L931,241 Z"/>
<path id="ps1998b4" d="M931,203.1 932,201 933,199 934,196.8 935,194.7 936,192.5 937,190.4 938,188.2 939,186.1 940,184 941,181.9 942,179.9 943,177.9 944,176 945,174.2 946,172.4 947,170.7 948,169.1 949,167.5 950,166.1 951,164.7 952,163.4 953,162.1 954,161 955,159.9 956,159 957,158.1 958,157.2 959,156.5 960,155.8 961,155.1 962,154.5 963,154 964,153.5 965,153.1 966,152.6 967,152.3 968,152 969,151.7 970,151.4 971,151.3 972,151.1 973,151 974,150.9 975,150.9 976,150.9 977,151 978,151.1 979,151.2 980,151.4 981,151.6 982,151.8 983,152.1 984,152.4 985,152.7 986,153 987,153.4 988,153.7 989,154.1 990,154.5 991,154.8 992,155.2 993,155.5 994,155.8 995,156.1 996,156.3 997,156.5 998,156.7 999,156.8 1000,156.9 1001,156.9 1002,156.9 1003,156.8 1004,156.7 1005,156.6 1006,156.5 1007,156.3 1008,156.1 1009,156 1010,155.8 1011,155.6 1012,155.5 1013,155.3 1014,155.2 1015,155 1016,154.9 1017,154.8 1018,154.7 1019,154.5 1020,154.4 1021,154.3 1022,154.2 1023,154 1024,153.9 1025,153.8 1026,153.7 1027,153.5 1028,153.4 1029,153.3 1030,153.2 1031,153 1032,152.9 1033,152.8 1034,152.7 1035,152.5 1036,152.4 1037,152.3 1038,152.2 1039,152 1040,151.9 1041,151.8 1042,151.7 1043,151.6 1044,151.4 1045,151.3 1046,151.2 1047,151.1 1048,151 1049,150.9 1050,150.8 1051,150.7 1052,150.6 1053,150.5 1054,150.4 1055,150.3 1056,150.2 1057,150.1 1058,150 1059,149.9 1060,149.8 1061,149.7 1062,149.6 1063,149.6 1064,149.5 1065,149.4 1066,149.3 1067,149.2 1068,149.1 1069,149.1 1070,149 1071,148.9 1072,148.8 1073,148.8 1074,148.7 1075,148.6 1076,148.6 1077,148.5 1078,148.4 1079,148.4 1080,148.3 1081,148.2 1082,148.2 1083,148.1 1084,148.1 1085,148 1086,147.9 1087,147.9 1088,147.8 1089,147.8 1090,147.7 1091,147.6 1092,147.6 1093,147.5 1094,147.5 1095,147.4 1096,147.4 1097,147.3 1098,147.3 1099,147.2 1100,147.2 1101,147.1 1102,147 1103,147 1104,146.9 1105,146.9 1106,146.8 1107,146.8 1108,146.7 1109,146.7 1110,146.6 1111,146.6 1112,146.5 1113,146.5 1114,146.4 1115,146.4 1116,146.3 1117,146.3 1118,146.2 1119,146.2 1120,146.1 1121,146.1 1122,146 1123,146 1124,145.9 1125,145.9 1126,145.8 1127,145.8 1128,145.7 1129,145.7 1130,145.6 1131,145.6 1132,145.5 L1132,241 L931,241 Z"/>
<path id="ps1998b3" d="M931,234.8 932,234.7 933,234.6 934,234.3 935,234.1 936,233.9 937,233.7 938,233.5 939,233.3 940,233.1 941,232.8 942,232.5 943,232.2 944,231.8 945,231.4 946,230.9 947,230.4 948,229.8 949,229.1 950,228.3 951,227.4 952,226.4 953,225.2 954,223.9 955,222.5 956,220.8 957,218.9 958,216.8 959,214.3 960,211.6 961,208.6 962,205.3 963,202 964,198.5 965,195 966,191.5 967,188.1 968,184.8 969,181.6 970,178.7 971,175.9 972,173.4 973,171.2 974,169.4 975,167.8 976,166.5 977,165.5 978,164.7 979,164.1 980,163.8 981,163.6 982,163.5 983,163.5 984,163.7 985,163.9 986,164.2 987,164.5 988,164.9 989,165.3 990,165.7 991,166.2 992,166.6 993,167 994,167.5 995,167.8 996,168.2 997,168.4 998,168.6 999,168.7 1000,168.8 1001,168.7 1002,168.7 1003,168.6 1004,168.4 1005,168.2 1006,168 1007,167.7 1008,167.5 1009,167.2 1010,167 1011,166.8 1012,166.5 1013,166.3 1014,166.1 1015,166 1016,165.8 1017,165.7 1018,165.5 1019,165.4 1020,165.2 1021,165.1 1022,165 1023,164.9 1024,164.8 1025,164.7 1026,164.6 1027,164.5 1028,164.4 1029,164.3 1030,164.2 1031,164.2 1032,164.1 1033,164 1034,163.9 1035,163.9 1036,163.8 1037,163.7 1038,163.7 1039,163.6 1040,163.5 1041,163.5 1042,163.4 1043,163.3 1044,163.3 1045,163.2 1046,163.2 1047,163.1 1048,163 1049,163 1050,162.9 1051,162.8 1052,162.8 1053,162.7 1054,162.6 1055,162.6 1056,162.5 1057,162.4 1058,162.4 1059,162.3 1060,162.2 1061,162.2 1062,162.1 1063,162 1064,161.9 1065,161.9 1066,161.8 1067,161.7 1068,161.7 1069,161.6 1070,161.5 1071,161.5 1072,161.4 1073,161.3 1074,161.2 1075,161.2 1076,161.1 1077,161 1078,161 1079,160.9 1080,160.8 1081,160.8 1082,160.7 1083,160.6 1084,160.6 1085,160.5 1086,160.4 1087,160.4 1088,160.3 1089,160.3 1090,160.2 1091,160.1 1092,160.1 1093,160 1094,160 1095,159.9 1096,159.9 1097,159.8 1098,159.8 1099,159.7 1100,159.7 1101,159.6 1102,159.6 1103,159.6 1104,159.5 1105,159.5 1106,159.4 1107,159.4 1108,159.3 1109,159.3 1110,159.3 1111,159.2 1112,159.2 1113,159.1 1114,159.1 1115,159.1 1116,159 1117,159 1118,158.9 1119,158.9 1120,158.9 1121,158.8 1122,158.8 1123,158.7 1124,158.7 1125,158.7 1126,158.6 1127,158.6 1128,158.5 1129,158.5 1130,158.5 1131,158.4 1132,158.4 L1132,241 L931,241 Z"/>
<path id="ps1998b2" d="M931,234.8 932,234.7 933,234.7 934,234.7 935,234.6 936,234.6 937,234.5 938,234.5 939,234.4 940,234.4 941,234.4 942,234.4 943,234.3 944,234.3 945,234.3 946,234.3 947,234.3 948,234.2 949,234 950,233.7 951,233.3 952,232.7 953,232.1 954,231.2 955,230.2 956,229 957,227.7 958,226.1 959,224.3 960,222.3 961,220.2 962,217.9 963,215.6 964,213.2 965,210.9 966,208.6 967,206.4 968,204.4 969,202.6 970,200.9 971,199.3 972,198.1 973,197 974,196.1 975,195.4 976,194.9 977,194.5 978,194.1 979,193.8 980,193.6 981,193.5 982,193.3 983,193.3 984,193.3 985,193.3 986,193.4 987,193.5 988,193.6 989,193.7 990,193.9 991,194 992,194.2 993,194.3 994,194.4 995,194.4 996,194.4 997,194.4 998,194.2 999,194 1000,193.8 1001,193.5 1002,193.1 1003,192.8 1004,192.4 1005,192 1006,191.5 1007,191.1 1008,190.7 1009,190.4 1010,190 1011,189.6 1012,189.3 1013,189 1014,188.7 1015,188.4 1016,188.1 1017,187.8 1018,187.5 1019,187.2 1020,187 1021,186.8 1022,186.5 1023,186.3 1024,186.1 1025,185.9 1026,185.6 1027,185.4 1028,185.3 1029,185.1 1030,184.9 1031,184.7 1032,184.6 1033,184.4 1034,184.3 1035,184.1 1036,184 1037,183.9 1038,183.8 1039,183.7 1040,183.6 1041,183.5 1042,183.4 1043,183.3 1044,183.2 1045,183.2 1046,183.1 1047,183.1 1048,183 1049,183 1050,182.9 1051,182.9 1052,182.9 1053,182.9 1054,182.8 1055,182.8 1056,182.8 1057,182.8 1058,182.8 1059,182.8 1060,182.7 1061,182.7 1062,182.7 1063,182.7 1064,182.7 1065,182.7 1066,182.7 1067,182.6 1068,182.6 1069,182.6 1070,182.6 1071,182.6 1072,182.5 1073,182.5 1074,182.5 1075,182.5 1076,182.4 1077,182.4 1078,182.4 1079,182.3 1080,182.3 1081,182.2 1082,182.2 1083,182.2 1084,182.1 1085,182.1 1086,182 1087,182 1088,182 1089,181.9 1090,181.9 1091,181.8 1092,181.8 1093,181.7 1094,181.7 1095,181.6 1096,181.6 1097,181.5 1098,181.5 1099,181.4 1100,181.4 1101,181.3 1102,181.2 1103,181.2 1104,181.1 1105,181.1 1106,181 1107,181 1108,180.9 1109,180.8 1110,180.8 1111,180.7 1112,180.7 1113,180.6 1114,180.5 1115,180.5 1116,180.4 1117,180.4 1118,180.3 1119,180.3 1120,180.2 1121,180.1 1122,180.1 1123,180 1124,180 1125,179.9 1126,179.8 1127,179.8 1128,179.7 1129,179.7 1130,179.6 1131,179.6 1132,179.5 L1132,241 L931,241 Z"/>
<path id="ps1998b1" d="M931,235.2 932,235.2 933,235.2 934,235.2 935,235.1 936,235 937,235 938,234.9 939,234.8 940,234.8 941,234.8 942,234.9 943,235 944,235.2 945,235.4 946,235.7 947,235.9 948,236.2 949,236.3 950,236.3 951,236.2 952,235.8 953,235.2 954,234.3 955,233.2 956,231.7 957,230 958,228.1 959,226 960,223.8 961,221.5 962,219.2 963,216.9 964,214.6 965,212.4 966,210.3 967,208.4 968,206.7 969,205.1 970,203.7 971,202.4 972,201.3 973,200.4 974,199.6 975,199 976,198.5 977,198.1 978,197.8 979,197.7 980,197.6 981,197.5 982,197.6 983,197.7 984,197.8 985,198 986,198.2 987,198.4 988,198.7 989,198.9 990,199.2 991,199.4 992,199.6 993,199.8 994,200 995,200.1 996,200.3 997,200.4 998,200.6 999,200.7 1000,200.8 1001,200.9 1002,201 1003,201.1 1004,201.2 1005,201.2 1006,201.3 1007,201.4 1008,201.5 1009,201.6 1010,201.8 1011,201.9 1012,202 1013,202.2 1014,202.3 1015,202.5 1016,202.6 1017,202.8 1018,203 1019,203.2 1020,203.4 1021,203.6 1022,203.8 1023,204 1024,204.2 1025,204.4 1026,204.6 1027,204.8 1028,205 1029,205.3 1030,205.5 1031,205.7 1032,205.9 1033,206.1 1034,206.4 1035,206.6 1036,206.8 1037,207 1038,207.2 1039,207.4 1040,207.6 1041,207.7 1042,207.9 1043,208 1044,208.1 1045,208.2 1046,208.3 1047,208.4 1048,208.4 1049,208.5 1050,208.5 1051,208.5 1052,208.6 1053,208.6 1054,208.6 1055,208.6 1056,208.6 1057,208.6 1058,208.6 1059,208.6 1060,208.6 1061,208.6 1062,208.5 1063,208.5 1064,208.5 1065,208.5 1066,208.5 1067,208.5 1068,208.5 1069,208.5 1070,208.5 1071,208.5 1072,208.5 1073,208.5 1074,208.5 1075,208.5 1076,208.6 1077,208.6 1078,208.6 1079,208.6 1080,208.6 1081,208.6 1082,208.7 1083,208.7 1084,208.7 1085,208.7 1086,208.7 1087,208.8 1088,208.8 1089,208.8 1090,208.8 1091,208.8 1092,208.9 1093,208.9 1094,208.9 1095,208.9 1096,208.9 1097,208.9 1098,208.9 1099,208.9 1100,208.9 1101,208.9 1102,209 1103,209 1104,209 1105,209 1106,209 1107,209 1108,209 1109,209 1110,209 1111,209 1112,209 1113,209 1114,209 1115,209 1116,209 1117,209 1118,209 1119,209 1120,209 1121,209 1122,209 1123,209 1124,209 1125,209 1126,209 1127,209 1128,209 1129,209 1130,209 1131,209 1132,209 L1132,241 L931,241 Z"/>
<clipPath id="cs2003"><rect x="1201.0" y="136.0" width="196.0" height="99.0"/></clipPath>
<path id="ps2003b5" d="M1198.7,143 1199.7,142.6 1200.7,142.2 1201.7,141.8 1202.7,141.4 1203.7,141 1204.7,140.6 1205.7,140.2 1206.7,139.8 1207.7,139.4 1208.7,139.1 1209.7,138.7 1210.7,138.3 1211.7,138 1212.7,137.6 1213.7,137.3 1214.7,137 1215.7,136.8 1216.7,136.5 1217.7,136.3 1218.7,136.1 1219.7,136 1220.7,135.8 1221.7,135.7 1222.7,135.5 1223.7,135.4 1224.7,135.4 1225.7,135.3 1226.7,135.2 1227.7,135.2 1228.7,135.2 1229.7,135.2 1230.7,135.2 1231.7,135.2 1232.7,135.2 1233.7,135.2 1234.7,135.3 1235.7,135.3 1236.7,135.4 1237.7,135.5 1238.7,135.5 1239.7,135.6 1240.7,135.7 1241.7,135.9 1242.7,136 1243.7,136.1 1244.7,136.3 1245.7,136.4 1246.7,136.6 1247.7,136.8 1248.7,137 1249.7,137.2 1250.7,137.4 1251.7,137.6 1252.7,137.9 1253.7,138.1 1254.7,138.4 1255.7,138.6 1256.7,138.9 1257.7,139.2 1258.7,139.4 1259.7,139.7 1260.7,140 1261.7,140.3 1262.7,140.6 1263.7,140.9 1264.7,141.2 1265.7,141.5 1266.7,141.7 1267.7,142 1268.7,142.3 1269.7,142.6 1270.7,142.9 1271.7,143.1 1272.7,143.4 1273.7,143.7 1274.7,143.9 1275.7,144.2 1276.7,144.4 1277.7,144.7 1278.7,144.9 1279.7,145.1 1280.7,145.4 1281.7,145.6 1282.7,145.8 1283.7,146 1284.7,146.2 1285.7,146.4 1286.7,146.6 1287.7,146.7 1288.7,146.9 1289.7,147.1 1290.7,147.2 1291.7,147.4 1292.7,147.5 1293.7,147.7 1294.7,147.8 1295.7,147.9 1296.7,148.1 1297.7,148.2 1298.7,148.3 1299.7,148.4 1300.7,148.5 1301.7,148.6 1302.7,148.7 1303.7,148.8 1304.7,148.9 1305.7,149 1306.7,149.1 1307.7,149.2 1308.7,149.3 1309.7,149.3 1310.7,149.4 1311.7,149.5 1312.7,149.5 1313.7,149.6 1314.7,149.6 1315.7,149.6 1316.7,149.7 1317.7,149.7 1318.7,149.7 1319.7,149.7 1320.7,149.7 1321.7,149.7 1322.7,149.7 1323.7,149.7 1324.7,149.6 1325.7,149.6 1326.7,149.6 1327.7,149.5 1328.7,149.5 1329.7,149.5 1330.7,149.4 1331.7,149.4 1332.7,149.4 1333.7,149.3 1334.7,149.3 1335.7,149.3 1336.7,149.2 1337.7,149.2 1338.7,149.2 1339.7,149.1 1340.7,149.1 1341.7,149.1 1342.7,149 1343.7,149 1344.7,149 1345.7,149 1346.7,148.9 1347.7,148.9 1348.7,148.9 1349.7,148.8 1350.7,148.8 1351.7,148.8 1352.7,148.7 1353.7,148.7 1354.7,148.7 1355.7,148.6 1356.7,148.6 1357.7,148.5 1358.7,148.5 1359.7,148.5 1360.7,148.4 1361.7,148.4 1362.7,148.3 1363.7,148.3 1364.7,148.2 1365.7,148.2 1366.7,148.1 1367.7,148.1 1368.7,148 1369.7,148 1370.7,147.9 1371.7,147.8 1372.7,147.8 1373.7,147.7 1374.7,147.7 1375.7,147.6 1376.7,147.6 1377.7,147.5 1378.7,147.4 1379.7,147.4 1380.7,147.3 1381.7,147.2 1382.7,147.2 1383.7,147.1 1384.7,147.1 1385.7,147 1386.7,146.9 1387.7,146.9 1388.7,146.8 1389.7,146.8 1390.7,146.7 1391.7,146.6 1392.7,146.6 1393.7,146.5 1394.7,146.5 1395.7,146.4 1396.7,146.3 1397.7,146.3 1398.7,146.2 1399.7,146.2 L1399.7,241 L1198.7,241 Z"/>
<path id="ps2003b4" d="M1198.7,168.7 1199.7,168.1 1200.7,167.5 1201.7,166.8 1202.7,166.2 1203.7,165.6 1204.7,164.9 1205.7,164.3 1206.7,163.6 1207.7,163 1208.7,162.4 1209.7,161.7 1210.7,161.1 1211.7,160.5 1212.7,159.9 1213.7,159.3 1214.7,158.8 1215.7,158.2 1216.7,157.7 1217.7,157.1 1218.7,156.6 1219.7,156.1 1220.7,155.6 1221.7,155.1 1222.7,154.7 1223.7,154.2 1224.7,153.8 1225.7,153.4 1226.7,153 1227.7,152.6 1228.7,152.2 1229.7,151.8 1230.7,151.5 1231.7,151.2 1232.7,150.9 1233.7,150.6 1234.7,150.3 1235.7,150.1 1236.7,149.9 1237.7,149.7 1238.7,149.5 1239.7,149.4 1240.7,149.3 1241.7,149.2 1242.7,149.1 1243.7,149 1244.7,149 1245.7,149 1246.7,149 1247.7,149.1 1248.7,149.1 1249.7,149.2 1250.7,149.3 1251.7,149.3 1252.7,149.5 1253.7,149.6 1254.7,149.7 1255.7,149.8 1256.7,149.9 1257.7,150 1258.7,150.2 1259.7,150.3 1260.7,150.4 1261.7,150.5 1262.7,150.6 1263.7,150.7 1264.7,150.8 1265.7,150.9 1266.7,151 1267.7,151.1 1268.7,151.2 1269.7,151.3 1270.7,151.4 1271.7,151.5 1272.7,151.6 1273.7,151.7 1274.7,151.8 1275.7,151.9 1276.7,152 1277.7,152.1 1278.7,152.2 1279.7,152.3 1280.7,152.4 1281.7,152.5 1282.7,152.6 1283.7,152.7 1284.7,152.8 1285.7,152.9 1286.7,153 1287.7,153.1 1288.7,153.2 1289.7,153.3 1290.7,153.4 1291.7,153.5 1292.7,153.6 1293.7,153.6 1294.7,153.7 1295.7,153.8 1296.7,153.9 1297.7,154 1298.7,154 1299.7,154.1 1300.7,154.1 1301.7,154.2 1302.7,154.2 1303.7,154.3 1304.7,154.3 1305.7,154.3 1306.7,154.3 1307.7,154.3 1308.7,154.3 1309.7,154.3 1310.7,154.3 1311.7,154.3 1312.7,154.2 1313.7,154.2 1314.7,154.2 1315.7,154.1 1316.7,154.1 1317.7,154 1318.7,153.9 1319.7,153.9 1320.7,153.8 1321.7,153.7 1322.7,153.7 1323.7,153.6 1324.7,153.5 1325.7,153.5 1326.7,153.4 1327.7,153.4 1328.7,153.3 1329.7,153.3 1330.7,153.2 1331.7,153.1 1332.7,153.1 1333.7,153 1334.7,153 1335.7,153 1336.7,152.9 1337.7,152.9 1338.7,152.8 1339.7,152.8 1340.7,152.7 1341.7,152.7 1342.7,152.6 1343.7,152.6 1344.7,152.5 1345.7,152.5 1346.7,152.5 1347.7,152.4 1348.7,152.4 1349.7,152.3 1350.7,152.3 1351.7,152.2 1352.7,152.2 1353.7,152.1 1354.7,152.1 1355.7,152 1356.7,151.9 1357.7,151.9 1358.7,151.8 1359.7,151.8 1360.7,151.7 1361.7,151.7 1362.7,151.6 1363.7,151.5 1364.7,151.5 1365.7,151.4 1366.7,151.4 1367.7,151.3 1368.7,151.2 1369.7,151.2 1370.7,151.1 1371.7,151 1372.7,151 1373.7,150.9 1374.7,150.8 1375.7,150.8 1376.7,150.7 1377.7,150.6 1378.7,150.6 1379.7,150.5 1380.7,150.4 1381.7,150.4 1382.7,150.3 1383.7,150.2 1384.7,150.2 1385.7,150.1 1386.7,150 1387.7,149.9 1388.7,149.9 1389.7,149.8 1390.7,149.7 1391.7,149.7 1392.7,149.6 1393.7,149.5 1394.7,149.5 1395.7,149.4 1396.7,149.3 1397.7,149.3 1398.7,149.2 1399.7,149.1 L1399.7,241 L1198.7,241 Z"/>
<path id="ps2003b3" d="M1198.7,235 1199.7,234.9 1200.7,234.8 1201.7,234.3 1202.7,233.9 1203.7,233.4 1204.7,232.9 1205.7,232.5 1206.7,232 1207.7,231.5 1208.7,231 1209.7,230.5 1210.7,230 1211.7,229.5 1212.7,229 1213.7,228.4 1214.7,227.8 1215.7,227.1 1216.7,226.4 1217.7,225.6 1218.7,224.7 1219.7,223.8 1220.7,222.7 1221.7,221.4 1222.7,220.1 1223.7,218.6 1224.7,216.9 1225.7,215.2 1226.7,213.3 1227.7,211.4 1228.7,209.3 1229.7,207.2 1230.7,205 1231.7,202.8 1232.7,200.5 1233.7,198.2 1234.7,195.9 1235.7,193.6 1236.7,191.3 1237.7,189.1 1238.7,187 1239.7,185 1240.7,183.2 1241.7,181.5 1242.7,180 1243.7,178.8 1244.7,177.7 1245.7,176.7 1246.7,175.9 1247.7,175.1 1248.7,174.5 1249.7,173.9 1250.7,173.3 1251.7,172.8 1252.7,172.3 1253.7,171.8 1254.7,171.3 1255.7,170.8 1256.7,170.4 1257.7,170 1258.7,169.7 1259.7,169.3 1260.7,169 1261.7,168.7 1262.7,168.5 1263.7,168.2 1264.7,168 1265.7,167.8 1266.7,167.6 1267.7,167.5 1268.7,167.3 1269.7,167.2 1270.7,167 1271.7,166.9 1272.7,166.7 1273.7,166.6 1274.7,166.5 1275.7,166.4 1276.7,166.2 1277.7,166.1 1278.7,166 1279.7,165.9 1280.7,165.9 1281.7,165.8 1282.7,165.7 1283.7,165.7 1284.7,165.6 1285.7,165.6 1286.7,165.6 1287.7,165.6 1288.7,165.6 1289.7,165.6 1290.7,165.7 1291.7,165.7 1292.7,165.8 1293.7,165.8 1294.7,165.9 1295.7,166 1296.7,166.1 1297.7,166.3 1298.7,166.4 1299.7,166.5 1300.7,166.7 1301.7,166.8 1302.7,166.9 1303.7,167.1 1304.7,167.2 1305.7,167.3 1306.7,167.5 1307.7,167.6 1308.7,167.7 1309.7,167.8 1310.7,167.8 1311.7,167.9 1312.7,168 1313.7,168 1314.7,168 1315.7,168.1 1316.7,168.1 1317.7,168.1 1318.7,168.1 1319.7,168.1 1320.7,168.1 1321.7,168.1 1322.7,168.1 1323.7,168 1324.7,168 1325.7,168 1326.7,168 1327.7,167.9 1328.7,167.9 1329.7,167.9 1330.7,167.9 1331.7,167.8 1332.7,167.8 1333.7,167.7 1334.7,167.7 1335.7,167.7 1336.7,167.6 1337.7,167.6 1338.7,167.5 1339.7,167.5 1340.7,167.4 1341.7,167.4 1342.7,167.3 1343.7,167.2 1344.7,167.2 1345.7,167.1 1346.7,167 1347.7,166.9 1348.7,166.9 1349.7,166.8 1350.7,166.7 1351.7,166.6 1352.7,166.5 1353.7,166.4 1354.7,166.3 1355.7,166.3 1356.7,166.2 1357.7,166.1 1358.7,166 1359.7,165.9 1360.7,165.8 1361.7,165.7 1362.7,165.7 1363.7,165.6 1364.7,165.5 1365.7,165.4 1366.7,165.3 1367.7,165.3 1368.7,165.2 1369.7,165.1 1370.7,165 1371.7,164.9 1372.7,164.9 1373.7,164.8 1374.7,164.7 1375.7,164.6 1376.7,164.5 1377.7,164.5 1378.7,164.4 1379.7,164.3 1380.7,164.2 1381.7,164.2 1382.7,164.1 1383.7,164 1384.7,163.9 1385.7,163.9 1386.7,163.8 1387.7,163.7 1388.7,163.6 1389.7,163.5 1390.7,163.5 1391.7,163.4 1392.7,163.3 1393.7,163.2 1394.7,163.2 1395.7,163.1 1396.7,163 1397.7,162.9 1398.7,162.8 1399.7,162.8 L1399.7,241 L1198.7,241 Z"/>
<path id="ps2003b2" d="M1198.7,235 1199.7,234.9 1200.7,234.8 1201.7,234.7 1202.7,234.6 1203.7,234.5 1204.7,234.5 1205.7,234.4 1206.7,234.3 1207.7,234.2 1208.7,234.1 1209.7,234 1210.7,233.8 1211.7,233.6 1212.7,233.3 1213.7,233 1214.7,232.6 1215.7,232.2 1216.7,231.6 1217.7,231.1 1218.7,230.4 1219.7,229.7 1220.7,228.9 1221.7,228 1222.7,227 1223.7,225.9 1224.7,224.8 1225.7,223.6 1226.7,222.4 1227.7,221.1 1228.7,219.8 1229.7,218.5 1230.7,217.2 1231.7,215.9 1232.7,214.7 1233.7,213.4 1234.7,212.2 1235.7,211 1236.7,209.8 1237.7,208.7 1238.7,207.7 1239.7,206.7 1240.7,205.7 1241.7,204.9 1242.7,204 1243.7,203.2 1244.7,202.5 1245.7,201.8 1246.7,201.2 1247.7,200.6 1248.7,200.1 1249.7,199.5 1250.7,199.1 1251.7,198.6 1252.7,198.2 1253.7,197.8 1254.7,197.4 1255.7,197 1256.7,196.7 1257.7,196.3 1258.7,196 1259.7,195.7 1260.7,195.3 1261.7,195 1262.7,194.7 1263.7,194.3 1264.7,194 1265.7,193.7 1266.7,193.4 1267.7,193.1 1268.7,192.8 1269.7,192.5 1270.7,192.2 1271.7,191.9 1272.7,191.7 1273.7,191.4 1274.7,191.1 1275.7,190.9 1276.7,190.6 1277.7,190.4 1278.7,190.2 1279.7,190 1280.7,189.8 1281.7,189.6 1282.7,189.4 1283.7,189.2 1284.7,189.1 1285.7,189 1286.7,188.8 1287.7,188.7 1288.7,188.6 1289.7,188.5 1290.7,188.4 1291.7,188.4 1292.7,188.3 1293.7,188.2 1294.7,188.2 1295.7,188.1 1296.7,188.1 1297.7,188.1 1298.7,188 1299.7,188 1300.7,188 1301.7,188 1302.7,188 1303.7,187.9 1304.7,187.9 1305.7,187.9 1306.7,187.9 1307.7,187.9 1308.7,187.9 1309.7,187.8 1310.7,187.8 1311.7,187.8 1312.7,187.8 1313.7,187.8 1314.7,187.7 1315.7,187.7 1316.7,187.7 1317.7,187.6 1318.7,187.6 1319.7,187.6 1320.7,187.5 1321.7,187.5 1322.7,187.4 1323.7,187.4 1324.7,187.3 1325.7,187.3 1326.7,187.2 1327.7,187.2 1328.7,187.1 1329.7,187.1 1330.7,187 1331.7,186.9 1332.7,186.9 1333.7,186.8 1334.7,186.8 1335.7,186.7 1336.7,186.7 1337.7,186.6 1338.7,186.6 1339.7,186.5 1340.7,186.5 1341.7,186.4 1342.7,186.4 1343.7,186.3 1344.7,186.3 1345.7,186.2 1346.7,186.2 1347.7,186.1 1348.7,186.1 1349.7,186 1350.7,186 1351.7,186 1352.7,185.9 1353.7,185.9 1354.7,185.8 1355.7,185.8 1356.7,185.7 1357.7,185.7 1358.7,185.7 1359.7,185.6 1360.7,185.6 1361.7,185.5 1362.7,185.5 1363.7,185.5 1364.7,185.4 1365.7,185.4 1366.7,185.4 1367.7,185.3 1368.7,185.3 1369.7,185.3 1370.7,185.2 1371.7,185.2 1372.7,185.1 1373.7,185.1 1374.7,185.1 1375.7,185 1376.7,185 1377.7,185 1378.7,184.9 1379.7,184.9 1380.7,184.9 1381.7,184.8 1382.7,184.8 1383.7,184.8 1384.7,184.7 1385.7,184.7 1386.7,184.7 1387.7,184.6 1388.7,184.6 1389.7,184.6 1390.7,184.5 1391.7,184.5 1392.7,184.5 1393.7,184.4 1394.7,184.4 1395.7,184.4 1396.7,184.3 1397.7,184.3 1398.7,184.3 1399.7,184.2 L1399.7,241 L1198.7,241 Z"/>
<path id="ps2003b1" d="M1198.7,235.2 1199.7,235.2 1200.7,235.2 1201.7,235.2 1202.7,235.2 1203.7,235.2 1204.7,235.1 1205.7,235.1 1206.7,235.1 1207.7,235.2 1208.7,235.2 1209.7,235.2 1210.7,235.2 1211.7,235.2 1212.7,235.2 1213.7,235.1 1214.7,235 1215.7,234.7 1216.7,234.5 1217.7,234.1 1218.7,233.6 1219.7,233 1220.7,232.3 1221.7,231.5 1222.7,230.6 1223.7,229.6 1224.7,228.5 1225.7,227.3 1226.7,225.9 1227.7,224.6 1228.7,223.1 1229.7,221.7 1230.7,220.2 1231.7,218.8 1232.7,217.4 1233.7,216 1234.7,214.7 1235.7,213.5 1236.7,212.4 1237.7,211.4 1238.7,210.4 1239.7,209.5 1240.7,208.7 1241.7,207.9 1242.7,207.2 1243.7,206.6 1244.7,206 1245.7,205.5 1246.7,205 1247.7,204.6 1248.7,204.2 1249.7,203.8 1250.7,203.4 1251.7,203 1252.7,202.6 1253.7,202.3 1254.7,201.9 1255.7,201.6 1256.7,201.3 1257.7,200.9 1258.7,200.7 1259.7,200.4 1260.7,200.2 1261.7,200 1262.7,199.8 1263.7,199.6 1264.7,199.5 1265.7,199.4 1266.7,199.3 1267.7,199.3 1268.7,199.3 1269.7,199.4 1270.7,199.5 1271.7,199.6 1272.7,199.7 1273.7,199.9 1274.7,200 1275.7,200.2 1276.7,200.4 1277.7,200.6 1278.7,200.8 1279.7,201 1280.7,201.2 1281.7,201.5 1282.7,201.7 1283.7,201.9 1284.7,202.2 1285.7,202.4 1286.7,202.7 1287.7,202.9 1288.7,203.2 1289.7,203.5 1290.7,203.7 1291.7,204 1292.7,204.3 1293.7,204.6 1294.7,204.9 1295.7,205.3 1296.7,205.6 1297.7,206 1298.7,206.3 1299.7,206.7 1300.7,207 1301.7,207.4 1302.7,207.7 1303.7,208 1304.7,208.3 1305.7,208.6 1306.7,208.8 1307.7,209 1308.7,209.2 1309.7,209.4 1310.7,209.5 1311.7,209.7 1312.7,209.8 1313.7,209.9 1314.7,210 1315.7,210.1 1316.7,210.1 1317.7,210.2 1318.7,210.3 1319.7,210.4 1320.7,210.4 1321.7,210.5 1322.7,210.5 1323.7,210.6 1324.7,210.7 1325.7,210.7 1326.7,210.8 1327.7,210.8 1328.7,210.8 1329.7,210.9 1330.7,210.9 1331.7,210.9 1332.7,211 1333.7,211 1334.7,211 1335.7,211 1336.7,211.1 1337.7,211.1 1338.7,211.1 1339.7,211.1 1340.7,211.1 1341.7,211.1 1342.7,211.1 1343.7,211.1 1344.7,211.1 1345.7,211.1 1346.7,211.1 1347.7,211.1 1348.7,211.1 1349.7,211.1 1350.7,211.1 1351.7,211.1 1352.7,211.1 1353.7,211 1354.7,211 1355.7,211 1356.7,211 1357.7,211 1358.7,211 1359.7,211 1360.7,211 1361.7,211 1362.7,211 1363.7,211 1364.7,211 1365.7,211 1366.7,211 1367.7,211 1368.7,211 1369.7,211 1370.7,211 1371.7,211 1372.7,211 1373.7,211 1374.7,211 1375.7,211 1376.7,211 1377.7,211 1378.7,211 1379.7,211 1380.7,211 1381.7,211 1382.7,211 1383.7,211 1384.7,211 1385.7,211 1386.7,211 1387.7,211 1388.7,211 1389.7,211 1390.7,211 1391.7,211 1392.7,211 1393.7,211 1394.7,211 1395.7,211 1396.7,211 1397.7,211 1398.7,211 1399.7,211 L1399.7,241 L1198.7,241 Z"/>
</defs>
<rect width="1416" height="720" fill="#fff"/>
<g clip-path="url(#cL)">
<rect x="130.0" y="270.0" width="610.0" height="354.0" fill="#AA00D8"/>
<use href="#pLb5" fill="#48AEE6"/>
<use href="#pLb4" fill="#43C32B"/>
<use href="#pLb3" fill="#F3CD00"/>
<use href="#pLb2" fill="#FFA513"/>
<use href="#pLb1" fill="#F45B5B"/>
<use href="#pLb1" fill="none" stroke="#fff" stroke-width="3.4" stroke-linejoin="round"/>
<use href="#pLb2" fill="none" stroke="#fff" stroke-width="3.4" stroke-linejoin="round"/>
<use href="#pLb4" fill="none" stroke="#fff" stroke-width="3.4" stroke-linejoin="round"/>
<use href="#pLb5" fill="none" stroke="#fff" stroke-width="3.4" stroke-linejoin="round"/>
</g>
<path fill="#fff" d="M130.0,270.0H740.0V624.0H130.0Z M131.67,271.2V622.8H738.9V271.2Z"/>
<g clip-path="url(#cR)">
<rect x="787.0" y="270.0" width="610.0" height="354.0" fill="#AA00D8"/>
<use href="#pRb5" fill="#48AEE6"/>
<use href="#pRb4" fill="#43C32B"/>
<use href="#pRb3" fill="#F3CD00"/>
<use href="#pRb2" fill="#FFA513"/>
<use href="#pRb1" fill="#F45B5B"/>
<use href="#pRb1" fill="none" stroke="#fff" stroke-width="3.4" stroke-linejoin="round"/>
<use href="#pRb2" fill="none" stroke="#fff" stroke-width="3.4" stroke-linejoin="round"/>
<use href="#pRb4" fill="none" stroke="#fff" stroke-width="3.4" stroke-linejoin="round"/>
<use href="#pRb5" fill="none" stroke="#fff" stroke-width="3.4" stroke-linejoin="round"/>
</g>
<path fill="#fff" d="M787.0,270.0H1397.0V624.0H787.0Z M788.8,271.2V622.8H1395.95V271.2Z"/>
<g clip-path="url(#cs1983)">
<rect x="129.0" y="135.0" width="198.0" height="101.0" fill="#AA00D8"/>
<use href="#ps1983b5" fill="#48AEE6"/>
<use href="#ps1983b4" fill="#43C32B"/>
<use href="#ps1983b3" fill="#F3CD00"/>
<use href="#ps1983b2" fill="#FFA513"/>
<use href="#ps1983b1" fill="#F45B5B"/>
<use href="#ps1983b1" fill="none" stroke="#fff" stroke-width="1.6" stroke-linejoin="round"/>
<use href="#ps1983b2" fill="none" stroke="#fff" stroke-width="1.6" stroke-linejoin="round"/>
<use href="#ps1983b4" fill="none" stroke="#fff" stroke-width="1.6" stroke-linejoin="round"/>
<use href="#ps1983b5" fill="none" stroke="#fff" stroke-width="1.6" stroke-linejoin="round"/>
</g>
<path fill="#fff" d="M129.0,135.0H327.0V236.0H129.0Z M130.75,136.75V234.5H325.9V136.75Z"/>
<g clip-path="url(#cs1988)">
<rect x="397.0" y="135.0" width="198.0" height="101.0" fill="#AA00D8"/>
<use href="#ps1988b5" fill="#48AEE6"/>
<use href="#ps1988b4" fill="#43C32B"/>
<use href="#ps1988b3" fill="#F3CD00"/>
<use href="#ps1988b2" fill="#FFA513"/>
<use href="#ps1988b1" fill="#F45B5B"/>
<use href="#ps1988b1" fill="none" stroke="#fff" stroke-width="1.6" stroke-linejoin="round"/>
<use href="#ps1988b2" fill="none" stroke="#fff" stroke-width="1.6" stroke-linejoin="round"/>
<use href="#ps1988b4" fill="none" stroke="#fff" stroke-width="1.6" stroke-linejoin="round"/>
<use href="#ps1988b5" fill="none" stroke="#fff" stroke-width="1.6" stroke-linejoin="round"/>
</g>
<path fill="#fff" d="M397.0,135.0H595.0V236.0H397.0Z M398.42,136.75V234.5H593.57V136.75Z"/>
<g clip-path="url(#cs1993)">
<rect x="665.0" y="135.0" width="198.0" height="101.0" fill="#AA00D8"/>
<use href="#ps1993b5" fill="#48AEE6"/>
<use href="#ps1993b4" fill="#43C32B"/>
<use href="#ps1993b3" fill="#F3CD00"/>
<use href="#ps1993b2" fill="#FFA513"/>
<use href="#ps1993b1" fill="#F45B5B"/>
<use href="#ps1993b1" fill="none" stroke="#fff" stroke-width="1.6" stroke-linejoin="round"/>
<use href="#ps1993b2" fill="none" stroke="#fff" stroke-width="1.6" stroke-linejoin="round"/>
<use href="#ps1993b4" fill="none" stroke="#fff" stroke-width="1.6" stroke-linejoin="round"/>
<use href="#ps1993b5" fill="none" stroke="#fff" stroke-width="1.6" stroke-linejoin="round"/>
</g>
<path fill="#fff" d="M665.0,135.0H863.0V236.0H665.0Z M666.08,136.75V234.5H861.23V136.75Z"/>
<g clip-path="url(#cs1998)">
<rect x="932.0" y="135.0" width="198.0" height="101.0" fill="#AA00D8"/>
<use href="#ps1998b5" fill="#48AEE6"/>
<use href="#ps1998b4" fill="#43C32B"/>
<use href="#ps1998b3" fill="#F3CD00"/>
<use href="#ps1998b2" fill="#FFA513"/>
<use href="#ps1998b1" fill="#F45B5B"/>
<use href="#ps1998b1" fill="none" stroke="#fff" stroke-width="1.6" stroke-linejoin="round"/>
<use href="#ps1998b2" fill="none" stroke="#fff" stroke-width="1.6" stroke-linejoin="round"/>
<use href="#ps1998b4" fill="none" stroke="#fff" stroke-width="1.6" stroke-linejoin="round"/>
<use href="#ps1998b5" fill="none" stroke="#fff" stroke-width="1.6" stroke-linejoin="round"/>
</g>
<path fill="#fff" d="M932.0,135.0H1130.0V236.0H932.0Z M933.75,136.75V234.5H1128.9V136.75Z"/>
<g clip-path="url(#cs2003)">
<rect x="1200.0" y="135.0" width="198.0" height="101.0" fill="#AA00D8"/>
<use href="#ps2003b5" fill="#48AEE6"/>
<use href="#ps2003b4" fill="#43C32B"/>
<use href="#ps2003b3" fill="#F3CD00"/>
<use href="#ps2003b2" fill="#FFA513"/>
<use href="#ps2003b1" fill="#F45B5B"/>
<use href="#ps2003b1" fill="none" stroke="#fff" stroke-width="1.6" stroke-linejoin="round"/>
<use href="#ps2003b2" fill="none" stroke="#fff" stroke-width="1.6" stroke-linejoin="round"/>
<use href="#ps2003b4" fill="none" stroke="#fff" stroke-width="1.6" stroke-linejoin="round"/>
<use href="#ps2003b5" fill="none" stroke="#fff" stroke-width="1.6" stroke-linejoin="round"/>
</g>
<path fill="#fff" d="M1200.0,135.0H1398.0V236.0H1200.0Z M1201.42,136.75V234.5H1396.57V136.75Z"/>
<g stroke="#fff" stroke-opacity="0.75" stroke-width="1.3"><line x1="198" y1="271.2" x2="198" y2="287.7"/><line x1="198" y1="606.8" x2="198" y2="622.8"/><line x1="333.7" y1="271.2" x2="333.7" y2="287.7"/><line x1="333.7" y1="606.8" x2="333.7" y2="622.8"/><line x1="469.4" y1="271.2" x2="469.4" y2="287.7"/><line x1="469.4" y1="606.8" x2="469.4" y2="622.8"/><line x1="605.1" y1="271.2" x2="605.1" y2="287.7"/><line x1="605.1" y1="606.8" x2="605.1" y2="622.8"/><line x1="855" y1="271.2" x2="855" y2="287.7"/><line x1="855" y1="606.8" x2="855" y2="622.8"/><line x1="990.6" y1="271.2" x2="990.6" y2="287.7"/><line x1="990.6" y1="606.8" x2="990.6" y2="622.8"/><line x1="1126.2" y1="271.2" x2="1126.2" y2="287.7"/><line x1="1126.2" y1="606.8" x2="1126.2" y2="622.8"/><line x1="1261.8" y1="271.2" x2="1261.8" y2="287.7"/><line x1="1261.8" y1="606.8" x2="1261.8" y2="622.8"/><line x1="131.67" y1="553.4" x2="148.17" y2="553.4"/><line x1="722.4" y1="553.4" x2="738.9" y2="553.4"/><line x1="131.67" y1="482.5" x2="148.17" y2="482.5"/><line x1="722.4" y1="482.5" x2="738.9" y2="482.5"/><line x1="131.67" y1="411.7" x2="148.17" y2="411.7"/><line x1="722.4" y1="411.7" x2="738.9" y2="411.7"/><line x1="131.67" y1="340.8" x2="148.17" y2="340.8"/><line x1="722.4" y1="340.8" x2="738.9" y2="340.8"/></g>
<polyline points="132,410.1 134,411 136,411.9 138,412.8 140,413.6 142,414.5 144,415.3 146,416.1 148,416.9 150,417.6 152,418.3 154,419 156,419.7 158,420.3 160,420.9 162,421.5 164,422 166,422.6 168,423.1 170,423.6 172,424.1 174,424.5 176,424.9 178,425.3 180,425.7 182,426 184,426.3 186,426.5 188,426.7 190,426.8 192,426.9 194,426.9 196,426.8 198,426.6 200,426.3 202,425.9 204,425.3 206,424.6 208,423.8 210,422.8 212,421.7 214,420.4 216,419 218,417.7 220,416.2 222,414.8 224,413.3 226,411.9 228,410.4 230,408.9 232,407.4 234,405.7 236,404 238,402.1 240,400.2 242,398.2 244,396.2 246,394.2 248,392.3 250,390.4 252,388.6 254,386.8 256,385.2 258,383.6 260,382.1 262,380.7 264,379.4 266,378.1 268,376.9 270,375.6 272,374.4 274,373.3 276,372.1 278,371 280,369.9 282,368.8 284,367.7 286,366.7 288,365.7 290,364.7 292,363.7 294,362.7 296,361.7 298,360.7 300,359.8 302,358.8 304,357.9 306,357.1 308,356.2 310,355.4 312,354.6 314,353.9 316,353.1 318,352.3 320,351.6 322,350.9 324,350.1 326,349.4 328,348.7 330,348 332,347.4 334,346.7 336,346 338,345.3 340,344.6 342,344 344,343.3 346,342.6 348,342 350,341.4 352,340.8 354,340.2 356,339.7 358,339.1 360,338.6 362,338 364,337.5 366,336.9 368,336.4 370,335.9 372,335.3 374,334.7 376,334.2 378,333.6 380,333 382,332.5 384,331.9 386,331.3 388,330.7 390,330.2 392,329.6 394,329 396,328.4 398,327.9 400,327.3 402,326.7 404,326.1 406,325.5 408,325 410,324.4 412,323.8 414,323.3 416,322.7 418,322.2 420,321.6 422,321 424,320.5 426,319.9 428,319.4 430,318.8 432,318.2 434,317.7 436,317.1 438,316.6 440,316 442,315.4 444,314.8 446,314.2 448,313.6 450,313 452,312.3 454,311.7 456,311.1 458,310.5 460,309.9 462,309.3 464,308.8 466,308.2 468,307.7 470,307.2 472,306.7 474,306.3 476,305.8 478,305.4 480,305 482,304.7 484,304.3 486,304 488,303.7 490,303.5 492,303.3 494,303 496,302.8 498,302.6 500,302.5 502,302.3 504,302.1 506,301.9 508,301.7 510,301.5 512,301.3 514,301.2 516,300.9 518,300.7 520,300.5 522,300.3 524,300.1 526,299.8 528,299.6 530,299.4 532,299.2 534,298.9 536,298.7 538,298.5 540,298.2 542,298 544,297.8 546,297.5 548,297.3 550,297.1 552,296.8 554,296.6 556,296.4 558,296.1 560,295.9 562,295.6 564,295.4 566,295.2 568,294.9 570,294.7 572,294.4 574,294.2 576,293.9 578,293.7 580,293.4 582,293.1 584,292.8 586,292.5 588,292.2 590,291.9 592,291.6 594,291.3 596,290.9 598,290.6 600,290.3 602,290 604,289.7 606,289.4 608,289.2 610,288.9 612,288.6 614,288.4 616,288.1 618,287.9 620,287.6 622,287.4 624,287.1 626,286.9 628,286.7 630,286.5 632,286.3 634,286.1 636,285.9 638,285.7 640,285.5 642,285.3 644,285.1 646,285 648,284.8 650,284.6 652,284.4 654,284.2 656,284 658,283.8 660,283.7 662,283.5 664,283.3 666,283.1 668,282.9 670,282.7 672,282.6 674,282.4 676,282.2 678,282 680,281.8 682,281.7 684,281.5 686,281.3 688,281.1 690,281 692,280.8 694,280.6 696,280.4 698,280.3 700,280.1 702,279.9 704,279.7 706,279.6 708,279.4 710,279.2 712,279 714,278.9 716,278.7 718,278.5 720,278.3 722,278.2 724,278 726,277.8 728,277.7 730,277.5 732,277.3 734,277.2 736,277 738,276.9 740,276.8" fill="none" stroke="#000" stroke-width="5.2" stroke-linejoin="round"/>
<polyline points="789,614.9 791,614 793,613 795,612 797,611 799,610 801,609 803,608 805,606.9 807,605.8 809,604.8 811,603.7 813,602.6 815,601.5 817,600.4 819,599.3 821,598.1 823,597 825,595.8 827,594.6 829,593.3 831,592 833,590.6 835,589.1 837,587.7 839,586.2 841,584.7 843,583.2 845,581.5 847,579.8 849,577.9 851,575.7 853,573.4 855,571 857,568.4 859,565.6 861,562.6 863,559.5 865,556.1 867,552.5 869,548.7 871,544.7 873,540.7 875,536.8 877,533 879,529.3 881,525.6 883,522.1 885,518.5 887,515 889,511.4 891,507.9 893,504.4 895,500.9 897,497.4 899,493.9 901,490.4 903,487 905,483.5 907,480.1 909,476.8 911,473.5 913,470.3 915,467.1 917,464.1 919,461.1 921,458.2 923,455.4 925,452.7 927,450.2 929,447.6 931,445.2 933,442.9 935,440.7 937,438.5 939,436.4 941,434.3 943,432.3 945,430.3 947,428.4 949,426.6 951,424.7 953,422.9 955,421.1 957,419.4 959,417.6 961,415.9 963,414.2 965,412.5 967,410.8 969,409.2 971,407.6 973,406 975,404.4 977,402.9 979,401.4 981,400 983,398.6 985,397.2 987,395.9 989,394.6 991,393.4 993,392.3 995,391.3 997,390.3 999,389.5 1001,388.7 1003,387.9 1005,387.3 1007,386.7 1009,386.1 1011,385.6 1013,385.1 1015,384.7 1017,384.3 1019,383.9 1021,383.5 1023,383.2 1025,382.8 1027,382.5 1029,382.3 1031,382 1033,381.7 1035,381.5 1037,381.3 1039,381.1 1041,381 1043,380.8 1045,380.7 1047,380.6 1049,380.5 1051,380.4 1053,380.3 1055,380.3 1057,380.3 1059,380.3 1061,380.4 1063,380.4 1065,380.5 1067,380.6 1069,380.8 1071,380.9 1073,381.1 1075,381.4 1077,381.6 1079,381.9 1081,382.2 1083,382.5 1085,382.8 1087,383.1 1089,383.4 1091,383.7 1093,384.1 1095,384.4 1097,384.7 1099,385.1 1101,385.4 1103,385.8 1105,386.1 1107,386.5 1109,386.8 1111,387.1 1113,387.4 1115,387.7 1117,387.9 1119,388.2 1121,388.4 1123,388.5 1125,388.6 1127,388.7 1129,388.8 1131,388.8 1133,388.9 1135,388.9 1137,388.9 1139,388.9 1141,388.8 1143,388.8 1145,388.8 1147,388.8 1149,388.7 1151,388.7 1153,388.6 1155,388.6 1157,388.5 1159,388.5 1161,388.4 1163,388.3 1165,388.3 1167,388.2 1169,388.1 1171,388 1173,387.9 1175,387.8 1177,387.7 1179,387.6 1181,387.4 1183,387.3 1185,387.1 1187,387 1189,386.8 1191,386.7 1193,386.5 1195,386.4 1197,386.2 1199,386 1201,385.9 1203,385.7 1205,385.5 1207,385.4 1209,385.2 1211,385 1213,384.8 1215,384.6 1217,384.4 1219,384.2 1221,384 1223,383.9 1225,383.7 1227,383.5 1229,383.3 1231,383.1 1233,382.9 1235,382.7 1237,382.5 1239,382.3 1241,382.1 1243,381.9 1245,381.7 1247,381.6 1249,381.4 1251,381.2 1253,381 1255,380.8 1257,380.6 1259,380.4 1261,380.2 1263,380 1265,379.8 1267,379.6 1269,379.4 1271,379.2 1273,379 1275,378.8 1277,378.6 1279,378.4 1281,378.2 1283,378 1285,377.8 1287,377.6 1289,377.4 1291,377.2 1293,377.1 1295,376.9 1297,376.7 1299,376.6 1301,376.4 1303,376.3 1305,376.1 1307,376 1309,375.8 1311,375.7 1313,375.5 1315,375.4 1317,375.2 1319,375.1 1321,374.9 1323,374.8 1325,374.7 1327,374.5 1329,374.4 1331,374.2 1333,374.1 1335,373.9 1337,373.8 1339,373.6 1341,373.5 1343,373.3 1345,373.2 1347,373 1349,372.9 1351,372.7 1353,372.6 1355,372.4 1357,372.2 1359,372.1 1361,371.9 1363,371.8 1365,371.6 1367,371.5 1369,371.3 1371,371.1 1373,371 1375,370.8 1377,370.7 1379,370.5 1381,370.4 1383,370.2 1385,370 1387,369.9 1389,369.7 1391,369.6 1393,369.4 1395,369.3 1397,369.2" fill="none" stroke="#000" stroke-width="5.2" stroke-linejoin="round"/>
<polyline points="130,197 131,196 132,194.6 133,193.1 134,191.6 135,190.2 136,188.7 137,187.3 138,185.9 139,184.5 140,183.2 141,181.9 142,180.6 143,179.4 144,178.2 145,177 146,176 147,174.9 148,173.9 149,173 150,172.1 151,171.2 152,170.4 153,169.6 154,168.8 155,168.1 156,167.5 157,166.9 158,166.3 159,165.7 160,165.2 161,164.6 162,164.1 163,163.7 164,163.2 165,162.7 166,162.3 167,161.9 168,161.4 169,161 170,160.6 171,160.3 172,159.9 173,159.5 174,159.2 175,158.8 176,158.5 177,158.1 178,157.8 179,157.4 180,157.1 181,156.8 182,156.5 183,156.2 184,155.9 185,155.7 186,155.4 187,155.2 188,154.9 189,154.7 190,154.6 191,154.4 192,154.3 193,154.1 194,154.1 195,154 196,154 197,154 198,154 199,154 200,154.1 201,154.2 202,154.3 203,154.4 204,154.5 205,154.7 206,154.8 207,154.9 208,155.1 209,155.2 210,155.3 211,155.5 212,155.6 213,155.7 214,155.8 215,155.9 216,156 217,156 218,156 219,156 220,156 221,156 222,156 223,155.9 224,155.8 225,155.8 226,155.7 227,155.6 228,155.4 229,155.3 230,155.2 231,155.1 232,154.9 233,154.8 234,154.7 235,154.5 236,154.4 237,154.3 238,154.2 239,154.1 240,153.9 241,153.8 242,153.7 243,153.6 244,153.5 245,153.4 246,153.3 247,153.2 248,153.1 249,153 250,153 251,152.9 252,152.8 253,152.7 254,152.6 255,152.5 256,152.4 257,152.3 258,152.2 259,152.1 260,152 261,151.9 262,151.8 263,151.7 264,151.6 265,151.5 266,151.3 267,151.2 268,151.1 269,151 270,150.8 271,150.7 272,150.6 273,150.5 274,150.3 275,150.2 276,150 277,149.9 278,149.8 279,149.6 280,149.5 281,149.3 282,149.2 283,149 284,148.9 285,148.7 286,148.6 287,148.5 288,148.3 289,148.2 290,148 291,147.9 292,147.7 293,147.6 294,147.4 295,147.3 296,147.1 297,147 298,146.8 299,146.7 300,146.5 301,146.4 302,146.2 303,146.1 304,145.9 305,145.8 306,145.6 307,145.5 308,145.3 309,145.2 310,145 311,144.9 312,144.7 313,144.6 314,144.4 315,144.3 316,144.2 317,144 318,143.9 319,143.7 320,143.6 321,143.4 322,143.3 323,143.1 324,143 325,142.8 326,142.7 327,142.5" fill="none" stroke="#000" stroke-width="3.8" stroke-linejoin="round"/>
<polyline points="397.7,189.5 398.7,189 399.7,188.5 400.7,188 401.7,187.5 402.7,187 403.7,186.5 404.7,186 405.7,185.5 406.7,185 407.7,184.5 408.7,184 409.7,183.5 410.7,183 411.7,182.5 412.7,182.1 413.7,181.6 414.7,181.2 415.7,180.7 416.7,180.3 417.7,179.9 418.7,179.5 419.7,179.1 420.7,178.7 421.7,178.4 422.7,178.1 423.7,177.7 424.7,177.4 425.7,177.2 426.7,176.9 427.7,176.6 428.7,176.3 429.7,176.1 430.7,175.8 431.7,175.5 432.7,175.2 433.7,174.9 434.7,174.6 435.7,174.3 436.7,174 437.7,173.6 438.7,173.2 439.7,172.8 440.7,172.4 441.7,172 442.7,171.5 443.7,171 444.7,170.5 445.7,170 446.7,169.4 447.7,168.9 448.7,168.3 449.7,167.7 450.7,167 451.7,166.4 452.7,165.8 453.7,165.1 454.7,164.5 455.7,163.9 456.7,163.3 457.7,162.7 458.7,162.1 459.7,161.6 460.7,161.1 461.7,160.7 462.7,160.3 463.7,159.9 464.7,159.7 465.7,159.4 466.7,159.2 467.7,159.1 468.7,158.9 469.7,158.8 470.7,158.7 471.7,158.7 472.7,158.6 473.7,158.6 474.7,158.5 475.7,158.4 476.7,158.4 477.7,158.3 478.7,158.2 479.7,158.1 480.7,158 481.7,157.9 482.7,157.8 483.7,157.8 484.7,157.7 485.7,157.6 486.7,157.5 487.7,157.4 488.7,157.4 489.7,157.3 490.7,157.2 491.7,157.2 492.7,157.1 493.7,157 494.7,157 495.7,156.9 496.7,156.9 497.7,156.8 498.7,156.8 499.7,156.7 500.7,156.7 501.7,156.6 502.7,156.6 503.7,156.5 504.7,156.5 505.7,156.5 506.7,156.4 507.7,156.4 508.7,156.3 509.7,156.3 510.7,156.2 511.7,156.2 512.7,156.1 513.7,156.1 514.7,156.1 515.7,156 516.7,156 517.7,155.9 518.7,155.9 519.7,155.8 520.7,155.8 521.7,155.7 522.7,155.6 523.7,155.6 524.7,155.5 525.7,155.5 526.7,155.4 527.7,155.3 528.7,155.2 529.7,155.2 530.7,155.1 531.7,155 532.7,154.9 533.7,154.8 534.7,154.7 535.7,154.7 536.7,154.6 537.7,154.5 538.7,154.4 539.7,154.3 540.7,154.2 541.7,154.1 542.7,154 543.7,153.9 544.7,153.8 545.7,153.7 546.7,153.5 547.7,153.4 548.7,153.3 549.7,153.2 550.7,153.1 551.7,153 552.7,152.9 553.7,152.8 554.7,152.7 555.7,152.6 556.7,152.4 557.7,152.3 558.7,152.2 559.7,152.1 560.7,152 561.7,151.9 562.7,151.8 563.7,151.7 564.7,151.6 565.7,151.5 566.7,151.4 567.7,151.3 568.7,151.2 569.7,151 570.7,150.9 571.7,150.8 572.7,150.7 573.7,150.6 574.7,150.5 575.7,150.4 576.7,150.3 577.7,150.2 578.7,150.1 579.7,150 580.7,149.9 581.7,149.8 582.7,149.7 583.7,149.6 584.7,149.5 585.7,149.3 586.7,149.2 587.7,149.1 588.7,149 589.7,148.9 590.7,148.8 591.7,148.7 592.7,148.6 593.7,148.5 594.7,148.4" fill="none" stroke="#000" stroke-width="3.8" stroke-linejoin="round"/>
<polyline points="665.3,230.1 666.3,227.7 667.3,225.3 668.3,222.8 669.3,220.4 670.3,218.1 671.3,215.7 672.3,213.4 673.3,211.2 674.3,209 675.3,206.9 676.3,204.9 677.3,202.9 678.3,200.9 679.3,199 680.3,197.2 681.3,195.4 682.3,193.7 683.3,192 684.3,190.3 685.3,188.8 686.3,187.3 687.3,185.9 688.3,184.7 689.3,183.5 690.3,182.5 691.3,181.5 692.3,180.7 693.3,180 694.3,179.3 695.3,178.7 696.3,178.2 697.3,177.7 698.3,177.2 699.3,176.8 700.3,176.4 701.3,176.1 702.3,175.7 703.3,175.3 704.3,174.9 705.3,174.5 706.3,174.1 707.3,173.7 708.3,173.2 709.3,172.7 710.3,172.2 711.3,171.6 712.3,171 713.3,170.5 714.3,169.9 715.3,169.3 716.3,168.7 717.3,168 718.3,167.4 719.3,166.8 720.3,166.2 721.3,165.7 722.3,165.1 723.3,164.5 724.3,164 725.3,163.5 726.3,163 727.3,162.6 728.3,162.2 729.3,161.8 730.3,161.5 731.3,161.2 732.3,161 733.3,160.9 734.3,160.7 735.3,160.6 736.3,160.6 737.3,160.5 738.3,160.5 739.3,160.5 740.3,160.5 741.3,160.6 742.3,160.6 743.3,160.7 744.3,160.8 745.3,160.8 746.3,160.9 747.3,160.9 748.3,161 749.3,161 750.3,161 751.3,161 752.3,161 753.3,161 754.3,160.9 755.3,160.8 756.3,160.7 757.3,160.5 758.3,160.4 759.3,160.2 760.3,160 761.3,159.8 762.3,159.6 763.3,159.4 764.3,159.2 765.3,159 766.3,158.8 767.3,158.6 768.3,158.4 769.3,158.2 770.3,158 771.3,157.9 772.3,157.7 773.3,157.6 774.3,157.4 775.3,157.3 776.3,157.2 777.3,157.2 778.3,157.1 779.3,157 780.3,157 781.3,156.9 782.3,156.9 783.3,156.9 784.3,156.9 785.3,156.9 786.3,156.8 787.3,156.8 788.3,156.8 789.3,156.8 790.3,156.9 791.3,156.9 792.3,156.9 793.3,156.9 794.3,156.9 795.3,156.9 796.3,156.9 797.3,156.8 798.3,156.8 799.3,156.8 800.3,156.8 801.3,156.7 802.3,156.7 803.3,156.6 804.3,156.6 805.3,156.5 806.3,156.5 807.3,156.4 808.3,156.3 809.3,156.3 810.3,156.2 811.3,156.1 812.3,156 813.3,156 814.3,155.9 815.3,155.8 816.3,155.7 817.3,155.6 818.3,155.5 819.3,155.5 820.3,155.4 821.3,155.3 822.3,155.2 823.3,155.1 824.3,155 825.3,154.9 826.3,154.9 827.3,154.8 828.3,154.7 829.3,154.6 830.3,154.5 831.3,154.5 832.3,154.4 833.3,154.3 834.3,154.2 835.3,154.2 836.3,154.1 837.3,154 838.3,154 839.3,153.9 840.3,153.8 841.3,153.7 842.3,153.7 843.3,153.6 844.3,153.5 845.3,153.5 846.3,153.4 847.3,153.3 848.3,153.2 849.3,153.2 850.3,153.1 851.3,153 852.3,153 853.3,152.9 854.3,152.8 855.3,152.8 856.3,152.7 857.3,152.6 858.3,152.5 859.3,152.5 860.3,152.4 861.3,152.3 862.3,152.3" fill="none" stroke="#000" stroke-width="3.8" stroke-linejoin="round"/>
<polyline points="933,234.6 934,234.3 935,234.1 936,233.9 937,233.7 938,233.5 939,233.3 940,233.1 941,232.8 942,232.5 943,232.2 944,231.8 945,231.4 946,230.9 947,230.4 948,229.8 949,229.1 950,228.3 951,227.4 952,226.4 953,225.2 954,223.9 955,222.5 956,220.8 957,218.9 958,216.8 959,214.3 960,211.6 961,208.6 962,205.3 963,202 964,198.5 965,195 966,191.5 967,188.1 968,184.8 969,181.6 970,178.7 971,175.9 972,173.4 973,171.2 974,169.4 975,167.8 976,166.5 977,165.5 978,164.7 979,164.1 980,163.8 981,163.6 982,163.5 983,163.5 984,163.7 985,163.9 986,164.2 987,164.5 988,164.9 989,165.3 990,165.7 991,166.2 992,166.6 993,167 994,167.5 995,167.8 996,168.2 997,168.4 998,168.6 999,168.7 1000,168.8 1001,168.7 1002,168.7 1003,168.6 1004,168.4 1005,168.2 1006,168 1007,167.7 1008,167.5 1009,167.2 1010,167 1011,166.8 1012,166.5 1013,166.3 1014,166.1 1015,166 1016,165.8 1017,165.7 1018,165.5 1019,165.4 1020,165.2 1021,165.1 1022,165 1023,164.9 1024,164.8 1025,164.7 1026,164.6 1027,164.5 1028,164.4 1029,164.3 1030,164.2 1031,164.2 1032,164.1 1033,164 1034,163.9 1035,163.9 1036,163.8 1037,163.7 1038,163.7 1039,163.6 1040,163.5 1041,163.5 1042,163.4 1043,163.3 1044,163.3 1045,163.2 1046,163.2 1047,163.1 1048,163 1049,163 1050,162.9 1051,162.8 1052,162.8 1053,162.7 1054,162.6 1055,162.6 1056,162.5 1057,162.4 1058,162.4 1059,162.3 1060,162.2 1061,162.2 1062,162.1 1063,162 1064,161.9 1065,161.9 1066,161.8 1067,161.7 1068,161.7 1069,161.6 1070,161.5 1071,161.5 1072,161.4 1073,161.3 1074,161.2 1075,161.2 1076,161.1 1077,161 1078,161 1079,160.9 1080,160.8 1081,160.8 1082,160.7 1083,160.6 1084,160.6 1085,160.5 1086,160.4 1087,160.4 1088,160.3 1089,160.3 1090,160.2 1091,160.1 1092,160.1 1093,160 1094,160 1095,159.9 1096,159.9 1097,159.8 1098,159.8 1099,159.7 1100,159.7 1101,159.6 1102,159.6 1103,159.6 1104,159.5 1105,159.5 1106,159.4 1107,159.4 1108,159.3 1109,159.3 1110,159.3 1111,159.2 1112,159.2 1113,159.1 1114,159.1 1115,159.1 1116,159 1117,159 1118,158.9 1119,158.9 1120,158.9 1121,158.8 1122,158.8 1123,158.7 1124,158.7 1125,158.7 1126,158.6 1127,158.6 1128,158.5 1129,158.5 1130,158.5" fill="none" stroke="#000" stroke-width="3.8" stroke-linejoin="round"/>
<polyline points="1200.7,234.8 1201.7,234.3 1202.7,233.9 1203.7,233.4 1204.7,232.9 1205.7,232.5 1206.7,232 1207.7,231.5 1208.7,231 1209.7,230.5 1210.7,230 1211.7,229.5 1212.7,229 1213.7,228.4 1214.7,227.8 1215.7,227.1 1216.7,226.4 1217.7,225.6 1218.7,224.7 1219.7,223.8 1220.7,222.7 1221.7,221.4 1222.7,220.1 1223.7,218.6 1224.7,216.9 1225.7,215.2 1226.7,213.3 1227.7,211.4 1228.7,209.3 1229.7,207.2 1230.7,205 1231.7,202.8 1232.7,200.5 1233.7,198.2 1234.7,195.9 1235.7,193.6 1236.7,191.3 1237.7,189.1 1238.7,187 1239.7,185 1240.7,183.2 1241.7,181.5 1242.7,180 1243.7,178.8 1244.7,177.7 1245.7,176.7 1246.7,175.9 1247.7,175.1 1248.7,174.5 1249.7,173.9 1250.7,173.3 1251.7,172.8 1252.7,172.3 1253.7,171.8 1254.7,171.3 1255.7,170.8 1256.7,170.4 1257.7,170 1258.7,169.7 1259.7,169.3 1260.7,169 1261.7,168.7 1262.7,168.5 1263.7,168.2 1264.7,168 1265.7,167.8 1266.7,167.6 1267.7,167.5 1268.7,167.3 1269.7,167.2 1270.7,167 1271.7,166.9 1272.7,166.7 1273.7,166.6 1274.7,166.5 1275.7,166.4 1276.7,166.2 1277.7,166.1 1278.7,166 1279.7,165.9 1280.7,165.9 1281.7,165.8 1282.7,165.7 1283.7,165.7 1284.7,165.6 1285.7,165.6 1286.7,165.6 1287.7,165.6 1288.7,165.6 1289.7,165.6 1290.7,165.7 1291.7,165.7 1292.7,165.8 1293.7,165.8 1294.7,165.9 1295.7,166 1296.7,166.1 1297.7,166.3 1298.7,166.4 1299.7,166.5 1300.7,166.7 1301.7,166.8 1302.7,166.9 1303.7,167.1 1304.7,167.2 1305.7,167.3 1306.7,167.5 1307.7,167.6 1308.7,167.7 1309.7,167.8 1310.7,167.8 1311.7,167.9 1312.7,168 1313.7,168 1314.7,168 1315.7,168.1 1316.7,168.1 1317.7,168.1 1318.7,168.1 1319.7,168.1 1320.7,168.1 1321.7,168.1 1322.7,168.1 1323.7,168 1324.7,168 1325.7,168 1326.7,168 1327.7,167.9 1328.7,167.9 1329.7,167.9 1330.7,167.9 1331.7,167.8 1332.7,167.8 1333.7,167.7 1334.7,167.7 1335.7,167.7 1336.7,167.6 1337.7,167.6 1338.7,167.5 1339.7,167.5 1340.7,167.4 1341.7,167.4 1342.7,167.3 1343.7,167.2 1344.7,167.2 1345.7,167.1 1346.7,167 1347.7,166.9 1348.7,166.9 1349.7,166.8 1350.7,166.7 1351.7,166.6 1352.7,166.5 1353.7,166.4 1354.7,166.3 1355.7,166.3 1356.7,166.2 1357.7,166.1 1358.7,166 1359.7,165.9 1360.7,165.8 1361.7,165.7 1362.7,165.7 1363.7,165.6 1364.7,165.5 1365.7,165.4 1366.7,165.3 1367.7,165.3 1368.7,165.2 1369.7,165.1 1370.7,165 1371.7,164.9 1372.7,164.9 1373.7,164.8 1374.7,164.7 1375.7,164.6 1376.7,164.5 1377.7,164.5 1378.7,164.4 1379.7,164.3 1380.7,164.2 1381.7,164.2 1382.7,164.1 1383.7,164 1384.7,163.9 1385.7,163.9 1386.7,163.8 1387.7,163.7 1388.7,163.6 1389.7,163.5 1390.7,163.5 1391.7,163.4 1392.7,163.3 1393.7,163.2 1394.7,163.2 1395.7,163.1 1396.7,163 1397.7,162.9" fill="none" stroke="#000" stroke-width="3.8" stroke-linejoin="round"/>
<g opacity="0.999">
<rect x="130" y="11.25" width="69.5" height="20.75" fill="#F45B5B"/>
<rect x="130" y="66.25" width="69.5" height="20.75" fill="#43C32B"/>
<rect x="605" y="11.5" width="69.5" height="20.75" fill="#FFA513"/>
<rect x="605" y="66.2" width="69.5" height="20.75" fill="#48AEE6"/>
<rect x="1109" y="11.25" width="69.5" height="20.75" fill="#F3CD00"/>
<rect x="1109" y="66.25" width="69.5" height="20.75" fill="#AA00D8"/>
<text transform="translate(225.89,33.00) scale(0.8873,1)" font-size="40" fill="#000" stroke="#fff" stroke-width="0.9">TF-IDF</text>
<text transform="translate(224.70,88.70) scale(0.9674,1)" font-size="40" fill="#000" stroke="#fff" stroke-width="0.9">Adamic–Adar</text>
<text transform="translate(700.71,34.10) scale(0.9888,1)" font-size="40" fill="#000" stroke="#fff" stroke-width="0.9">time difference</text>
<text transform="translate(700.20,88.60) scale(1.0012,1)" font-size="40" fill="#000" stroke="#fff" stroke-width="0.9">comm. neighb.</text>
<text transform="translate(1204.83,34.30) scale(0.9886,1)" font-size="40" fill="#000" stroke="#fff" stroke-width="0.9">pref. att.</text>
<text transform="translate(1204.63,88.90) scale(0.9831,1)" font-size="40" fill="#000" stroke="#fff" stroke-width="0.9">comm. ref.</text>
<text transform="translate(61.69,638.50) scale(0.9411,1)" font-size="40" fill="#000" stroke="#fff" stroke-width="0.9">0.0</text>
<text transform="translate(61.68,567.62) scale(0.9519,1)" font-size="40" fill="#000" stroke="#fff" stroke-width="0.9">0.2</text>
<text transform="translate(61.70,496.74) scale(0.9375,1)" font-size="40" fill="#000" stroke="#fff" stroke-width="0.9">0.4</text>
<text transform="translate(61.69,425.86) scale(0.9447,1)" font-size="40" fill="#000" stroke="#fff" stroke-width="0.9">0.6</text>
<text transform="translate(61.69,354.98) scale(0.9447,1)" font-size="40" fill="#000" stroke="#fff" stroke-width="0.9">0.8</text>
<text transform="translate(68.34,284.10) scale(0.8184,1)" font-size="40" fill="#000" stroke="#fff" stroke-width="0.9">1.0</text>
<text transform="translate(186.64,668.00) scale(1.0055,1)" font-size="40" fill="#000" stroke="#fff" stroke-width="0.9">2</text>
<text transform="translate(322.44,668.00) scale(1.0149,1)" font-size="40" fill="#000" stroke="#fff" stroke-width="0.9">4</text>
<text transform="translate(457.90,668.00) scale(1.0000,1)" font-size="40" fill="#000" stroke="#fff" stroke-width="0.9">6</text>
<text transform="translate(593.28,668.00) scale(1.0372,1)" font-size="40" fill="#000" stroke="#fff" stroke-width="0.9">8</text>
<text transform="translate(720.95,668.00) scale(0.8012,1)" font-size="40" fill="#000" stroke="#fff" stroke-width="0.9">10</text>
<text transform="translate(843.74,668.00) scale(1.0055,1)" font-size="40" fill="#000" stroke="#fff" stroke-width="0.9">2</text>
<text transform="translate(979.44,668.00) scale(1.0149,1)" font-size="40" fill="#000" stroke="#fff" stroke-width="0.9">4</text>
<text transform="translate(1114.80,668.00) scale(1.0000,1)" font-size="40" fill="#000" stroke="#fff" stroke-width="0.9">6</text>
<text transform="translate(1250.08,668.00) scale(1.0372,1)" font-size="40" fill="#000" stroke="#fff" stroke-width="0.9">8</text>
<text transform="translate(1378.59,668.00) scale(0.8050,1)" font-size="40" fill="#000" stroke="#fff" stroke-width="0.9">10</text>
<text transform="translate(356.72,715.80) scale(0.9730,1)" font-size="40" fill="#000" stroke="#fff" stroke-width="0.9">tree level</text>
<text transform="translate(1014.02,715.80) scale(0.9736,1)" font-size="40" fill="#000" stroke="#fff" stroke-width="0.9">tree level</text>
<text transform="translate(35.00,602.95) rotate(-90) scale(0.9796,1)" font-size="40" fill="#000" stroke="#fff" stroke-width="0.9">relative frequency</text>
<text transform="translate(615.20,588.80) scale(0.9950,1)" font-size="38.6" fill="#fff" font-weight="bold">1978</text>
<text transform="translate(1268.00,588.80) scale(1.1094,1)" font-size="38.6" fill="#fff" font-weight="bold">2008</text>
<text transform="translate(236.47,220.50) scale(0.9593,1)" font-size="37" fill="#fff" font-weight="bold">1983</text>
<text transform="translate(504.18,220.50) scale(0.9570,1)" font-size="37" fill="#fff" font-weight="bold">1988</text>
<text transform="translate(771.87,220.50) scale(0.9593,1)" font-size="37" fill="#fff" font-weight="bold">1993</text>
<text transform="translate(1038.83,220.50) scale(0.9785,1)" font-size="37" fill="#fff" font-weight="bold">1998</text>
<text transform="translate(1305.19,220.50) scale(1.0096,1)" font-size="37" fill="#fff" font-weight="bold">2003</text>
</g>
</svg>
</body></html>
